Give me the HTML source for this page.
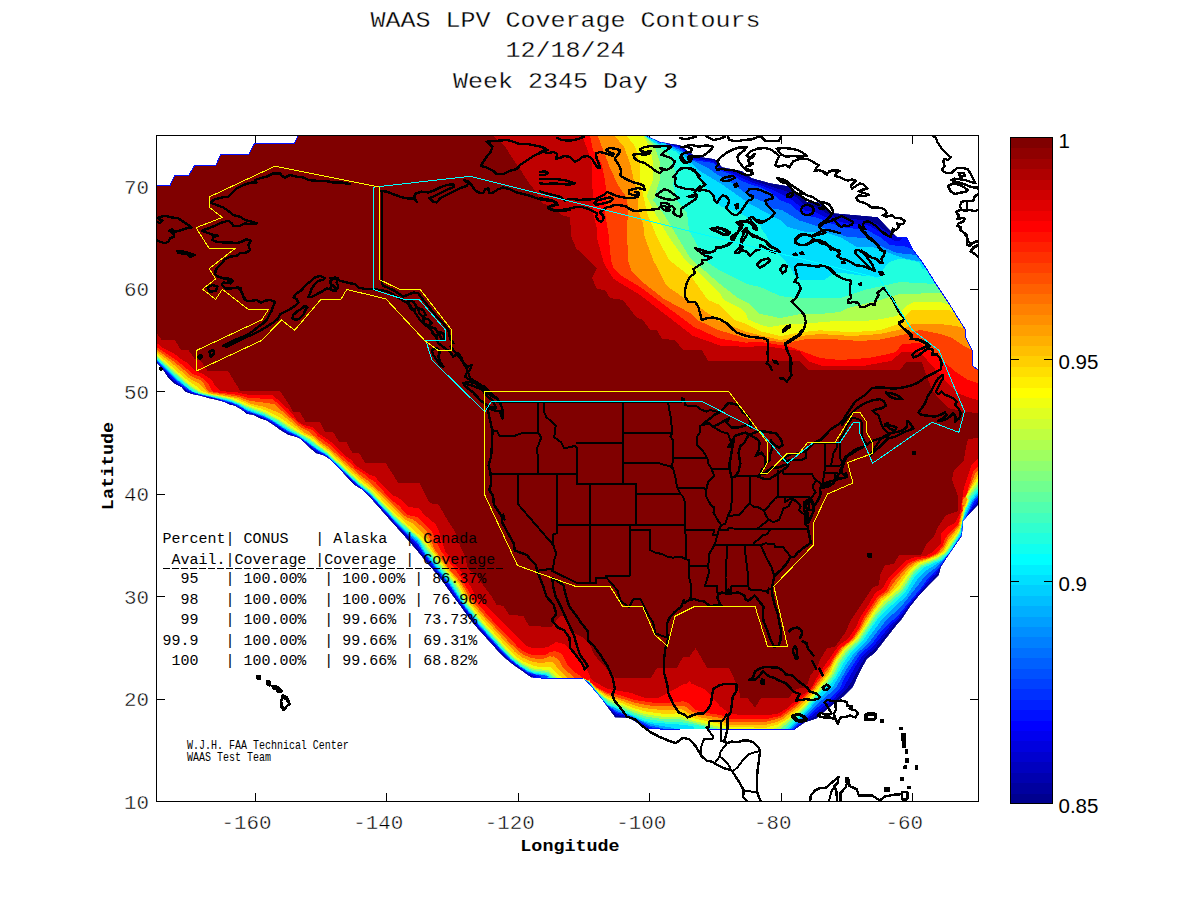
<!DOCTYPE html>
<html><head><meta charset="utf-8"><title>WAAS LPV Coverage Contours</title>
<style>
html,body{margin:0;padding:0;background:#fff;}
body{width:1200px;height:900px;position:relative;overflow:hidden;font-family:"Liberation Mono",monospace;color:#000;}
.t{position:absolute;white-space:pre;line-height:1;margin:0;padding:0;}
</style></head><body>
<svg width="1200" height="900" viewBox="0 0 1200 900" style="position:absolute;left:0;top:0" shape-rendering="crispEdges">
<defs><clipPath id="cov"><path d="M156.0,186.0 L170.0,186.0 L175.0,175.5 L189.0,175.5 L195.0,165.5 L216.0,165.5 L221.0,154.5 L249.0,154.5 L254.5,144.0 L294.0,144.0 L299.0,135.0 L645.0,135.0 L660.0,142.0 L680.0,145.0 L695.0,156.0 L715.0,159.0 L722.0,167.0 L742.0,171.0 L752.0,178.0 L770.0,183.0 L788.0,186.0 L800.0,194.0 L807.0,202.0 L818.0,202.0 L833.0,213.0 L878.0,217.0 L887.0,227.0 L897.0,237.0 L907.0,238.0 L913.0,250.0 L917.0,255.0 L922.0,262.0 L926.0,268.0 L936.0,284.0 L942.0,293.0 L950.0,305.0 L958.0,318.0 L965.0,329.0 L966.0,338.0 L972.0,350.0 L973.0,366.0 L978.0,370.0 L978.0,505.0 L963.0,521.0 L962.0,536.0 L950.0,553.0 L941.0,567.0 L939.0,575.0 L929.0,585.0 L918.0,597.0 L910.0,607.0 L902.0,619.0 L896.0,626.0 L885.0,640.0 L875.0,653.0 L867.0,659.0 L860.0,672.0 L853.0,687.0 L843.0,697.0 L829.0,708.0 L816.0,719.0 L805.0,722.5 L795.0,729.4 L793.0,729.4 L787.5,729.4 L780.0,729.4 L767.0,729.4 L730.0,729.2 L720.0,729.2 L708.0,729.0 L680.0,729.0 L660.0,729.0 L650.0,728.8 L645.0,728.5 L637.0,723.0 L629.0,718.0 L615.0,717.5 L608.0,708.0 L600.0,697.0 L590.0,685.5 L586.0,681.0 L583.0,678.0 L575.0,678.0 L568.0,678.0 L563.0,678.0 L559.0,678.0 L550.0,678.0 L541.0,678.0 L533.0,677.5 L531.0,677.5 L527.5,675.0 L521.7,670.8 L513.3,665.0 L505.0,658.3 L498.3,651.7 L491.7,644.2 L483.3,635.0 L475.0,625.8 L466.7,615.0 L460.0,605.8 L453.3,596.7 L446.7,587.5 L440.0,578.3 L433.0,570.0 L424.5,560.0 L416.3,550.0 L408.3,540.8 L401.7,533.3 L395.0,525.8 L388.3,518.3 L381.7,510.8 L375.0,503.3 L370.0,497.5 L362.5,490.0 L354.2,485.0 L350.0,480.8 L343.3,473.3 L336.7,466.7 L331.7,460.8 L324.2,455.8 L315.8,453.3 L310.0,448.3 L305.0,443.3 L299.2,438.3 L295.0,436.7 L288.3,435.0 L280.0,430.0 L273.3,425.0 L266.7,420.8 L259.2,418.3 L253.3,415.0 L246.7,414.2 L240.8,409.2 L234.2,405.8 L230.0,405.0 L225.0,402.5 L216.7,400.0 L208.3,398.3 L200.0,395.8 L191.7,394.2 L185.0,391.7 L181.7,387.5 L175.0,384.2 L168.3,378.3 L162.5,369.2 L157.0,363.3 L156.0,362.5Z"/></clipPath><clipPath id="frame"><rect x="157" y="136" width="821" height="665"/></clipPath></defs>
<path d="M255.5,801 v-8 M255.5,136 v8 M386.5,801 v-8 M386.5,136 v8 M518.5,801 v-8 M518.5,136 v8 M649.5,801 v-8 M649.5,136 v8 M781.5,801 v-8 M781.5,136 v8 M912.5,801 v-8 M912.5,136 v8 M157,699.5 h8 M978,699.5 h-8 M157,596.5 h8 M978,596.5 h-8 M157,494.5 h8 M978,494.5 h-8 M157,391.5 h8 M978,391.5 h-8 M157,289.5 h8 M978,289.5 h-8 M157,186.5 h8 M978,186.5 h-8" stroke="#000" stroke-width="1" fill="none"/>
<g clip-path="url(#frame)"><g clip-path="url(#cov)">
<path d="M156.0,186.0 L170.0,186.0 L175.0,175.5 L189.0,175.5 L195.0,165.5 L216.0,165.5 L221.0,154.5 L249.0,154.5 L254.5,144.0 L294.0,144.0 L299.0,135.0 L645.0,135.0 L660.0,142.0 L680.0,145.0 L695.0,156.0 L715.0,159.0 L722.0,167.0 L742.0,171.0 L752.0,178.0 L770.0,183.0 L788.0,186.0 L800.0,194.0 L807.0,202.0 L818.0,202.0 L833.0,213.0 L878.0,217.0 L887.0,227.0 L897.0,237.0 L907.0,238.0 L913.0,250.0 L917.0,255.0 L922.0,262.0 L926.0,268.0 L936.0,284.0 L942.0,293.0 L950.0,305.0 L958.0,318.0 L965.0,329.0 L966.0,338.0 L972.0,350.0 L973.0,366.0 L978.0,370.0 L978.0,505.0 L963.0,521.0 L962.0,536.0 L950.0,553.0 L941.0,567.0 L939.0,575.0 L929.0,585.0 L918.0,597.0 L910.0,607.0 L902.0,619.0 L896.0,626.0 L885.0,640.0 L875.0,653.0 L867.0,659.0 L860.0,672.0 L853.0,687.0 L843.0,697.0 L829.0,708.0 L816.0,719.0 L805.0,722.5 L795.0,729.4 L793.0,729.4 L787.5,729.4 L780.0,729.4 L767.0,729.4 L730.0,729.2 L720.0,729.2 L708.0,729.0 L680.0,729.0 L660.0,729.0 L650.0,728.8 L645.0,728.5 L637.0,723.0 L629.0,718.0 L615.0,717.5 L608.0,708.0 L600.0,697.0 L590.0,685.5 L586.0,681.0 L583.0,678.0 L575.0,678.0 L568.0,678.0 L563.0,678.0 L559.0,678.0 L550.0,678.0 L541.0,678.0 L533.0,677.5 L531.0,677.5 L527.5,675.0 L521.7,670.8 L513.3,665.0 L505.0,658.3 L498.3,651.7 L491.7,644.2 L483.3,635.0 L475.0,625.8 L466.7,615.0 L460.0,605.8 L453.3,596.7 L446.7,587.5 L440.0,578.3 L433.0,570.0 L424.5,560.0 L416.3,550.0 L408.3,540.8 L401.7,533.3 L395.0,525.8 L388.3,518.3 L381.7,510.8 L375.0,503.3 L370.0,497.5 L362.5,490.0 L354.2,485.0 L350.0,480.8 L343.3,473.3 L336.7,466.7 L331.7,460.8 L324.2,455.8 L315.8,453.3 L310.0,448.3 L305.0,443.3 L299.2,438.3 L295.0,436.7 L288.3,435.0 L280.0,430.0 L273.3,425.0 L266.7,420.8 L259.2,418.3 L253.3,415.0 L246.7,414.2 L240.8,409.2 L234.2,405.8 L230.0,405.0 L225.0,402.5 L216.7,400.0 L208.3,398.3 L200.0,395.8 L191.7,394.2 L185.0,391.7 L181.7,387.5 L175.0,384.2 L168.3,378.3 L162.5,369.2 L157.0,363.3 L156.0,362.5Z" fill="#00008F"/>
<path d="M492.0,134.1 L644.0,134.4 L651.0,137.4 L666.0,141.9 L666.0,143.1 L680.0,146.2 L695.0,157.4 L714.0,160.3 L721.5,168.0 L739.0,173.1 L751.0,179.9 L787.0,191.6 L796.0,196.9 L805.4,206.0 L817.0,207.6 L832.0,216.3 L872.0,221.4 L877.4,224.0 L884.1,230.0 L896.0,236.5 L896.6,236.0 L895.0,232.0 L891.8,228.0 L893.0,227.9 L896.0,230.8 L907.4,238.0 L908.5,241.0 L914.6,249.0 L915.6,252.0 L923.7,263.0 L924.7,266.0 L932.8,277.0 L933.7,280.0 L941.8,291.0 L942.8,294.0 L950.8,305.0 L956.8,316.0 L960.8,321.0 L961.8,324.0 L965.8,329.0 L971.8,349.0 L972.8,350.0 L972.8,353.0 L975.9,360.0 L975.9,363.0 L978.9,370.0 L978.8,482.0 L978.0,502.7 L967.0,516.3 L965.3,525.0 L962.7,529.0 L963.5,530.0 L962.3,532.0 L962.5,535.0 L952.3,550.0 L952.6,551.0 L951.0,553.5 L950.0,552.7 L950.5,554.0 L949.0,556.9 L947.8,556.0 L948.4,558.0 L948.0,558.5 L947.0,557.5 L940.4,567.0 L937.6,574.0 L916.4,597.0 L900.5,618.0 L893.8,625.0 L874.7,649.0 L865.0,657.0 L850.2,684.0 L845.0,691.0 L835.0,700.4 L815.0,716.3 L805.0,721.3 L794.7,729.0 L780.0,729.8 L669.0,729.6 L646.5,728.0 L629.0,717.3 L618.0,716.2 L615.0,714.9 L589.0,684.1 L588.7,685.0 L597.2,697.0 L597.9,700.0 L597.0,703.7 L596.0,703.1 L595.0,704.1 L589.0,701.9 L589.4,703.0 L588.0,703.1 L530.0,675.6 L511.0,662.2 L498.9,651.0 L475.6,625.0 L441.0,578.0 L416.0,547.2 L369.3,496.0 L362.9,490.0 L354.3,484.0 L332.0,460.9 L325.0,455.8 L316.0,452.1 L299.0,437.8 L288.0,433.8 L267.0,420.2 L254.0,414.6 L247.0,413.3 L241.0,408.7 L234.0,405.2 L217.0,399.6 L194.0,394.2 L186.0,390.9 L182.3,387.0 L175.4,383.0 L169.9,378.0 L163.0,369.0 L156.0,361.7 L155.3,358.0 L155.1,333.0 L157.0,331.1 L167.0,326.1 L169.0,324.1 L184.0,316.1 L196.0,308.1 L201.0,306.1 L213.0,298.1 L218.0,296.1 L225.0,291.1 L230.0,289.1 L242.0,281.1 L247.0,279.1 L259.0,271.1 L264.0,269.1 L266.0,267.1 L281.0,259.1 L293.0,251.1 L298.0,249.1 L310.0,241.1 L315.0,239.1 L327.0,231.1 L332.0,229.1 L344.0,221.1 L361.0,212.1 L373.0,204.1 L378.0,202.1 L390.0,194.1 L395.0,192.1 L407.0,184.1 L412.0,182.1 L414.0,180.1 L429.0,172.1 L441.0,164.1 L446.0,162.1 L458.0,154.1 L463.0,152.1 L475.0,144.1 L480.0,142.1Z" fill="#0000CF" fill-rule="evenodd"/>
<path d="M492.0,134.2 L644.0,134.5 L653.0,139.0 L655.0,138.8 L665.0,142.3 L666.0,143.4 L679.0,146.8 L683.0,149.0 L694.0,158.7 L713.9,162.0 L721.0,169.1 L731.0,172.5 L750.0,181.7 L772.0,189.5 L792.0,199.8 L805.0,210.6 L815.0,212.2 L832.0,220.0 L848.0,223.5 L869.0,225.6 L895.0,241.2 L899.0,240.9 L902.9,238.0 L902.6,236.0 L904.0,235.9 L907.2,238.0 L908.2,241.0 L923.6,263.0 L924.6,266.0 L932.6,277.0 L933.6,280.0 L941.7,291.0 L942.7,294.0 L950.7,305.0 L956.7,316.0 L960.7,321.0 L961.7,324.0 L965.8,329.0 L971.8,349.0 L972.8,350.0 L972.8,353.0 L975.8,360.0 L975.8,363.0 L978.8,370.0 L978.0,500.3 L971.3,509.0 L965.0,519.9 L964.0,519.9 L964.7,521.0 L964.3,525.0 L962.3,529.0 L963.0,530.0 L961.9,532.0 L962.2,535.0 L953.0,548.0 L953.3,549.0 L951.8,550.0 L952.2,551.0 L951.0,551.0 L949.8,554.0 L947.4,556.0 L936.1,573.0 L930.0,578.8 L896.5,620.0 L892.0,623.4 L872.8,647.0 L863.0,655.0 L855.1,667.0 L842.8,689.0 L833.1,699.0 L794.0,729.0 L779.0,729.7 L680.0,729.5 L660.0,729.3 L659.0,728.4 L648.9,728.0 L629.0,716.7 L616.0,713.8 L607.0,705.7 L586.0,680.7 L585.3,681.0 L585.8,682.0 L592.5,694.0 L591.0,697.3 L585.0,697.6 L579.0,695.8 L563.7,690.0 L537.2,677.0 L528.0,673.4 L514.4,664.0 L506.0,656.9 L477.7,626.0 L462.0,605.5 L449.0,586.7 L422.5,554.0 L417.2,546.0 L402.0,531.0 L370.0,495.9 L355.5,484.0 L327.0,456.4 L317.0,451.5 L299.0,437.4 L288.0,432.8 L267.0,419.5 L254.0,413.8 L247.0,412.3 L234.0,404.6 L217.0,399.1 L193.0,393.3 L188.0,391.0 L174.0,380.3 L156.0,360.8 L155.2,333.0 L157.0,331.2 L167.0,326.2 L169.0,324.2 L184.0,316.2 L196.0,308.2 L201.0,306.2 L213.0,298.2 L218.0,296.2 L225.0,291.2 L230.0,289.2 L242.0,281.2 L247.0,279.2 L259.0,271.2 L264.0,269.2 L266.0,267.2 L281.0,259.2 L293.0,251.2 L298.0,249.2 L310.0,241.2 L315.0,239.2 L327.0,231.2 L332.0,229.2 L344.0,221.2 L361.0,212.2 L373.0,204.2 L378.0,202.2 L390.0,194.2 L395.0,192.2 L407.0,184.2 L412.0,182.2 L414.0,180.2 L429.0,172.2 L441.0,164.2 L446.0,162.2 L458.0,154.2 L463.0,152.2 L475.0,144.2 L480.0,142.2Z" fill="#0010FF" fill-rule="evenodd"/>
<path d="M492.0,134.2 L643.0,134.4 L653.0,139.3 L654.0,138.8 L656.9,140.0 L658.0,142.6 L659.0,141.2 L660.0,143.5 L661.0,141.7 L662.0,141.9 L674.0,146.7 L679.0,147.8 L682.0,149.3 L691.0,158.0 L693.0,158.8 L693.0,160.0 L713.0,163.0 L721.0,170.8 L730.0,174.0 L741.0,180.6 L751.0,184.7 L760.0,187.0 L770.0,192.0 L780.0,200.0 L790.0,204.0 L803.0,215.0 L818.0,218.0 L831.0,223.4 L846.0,227.8 L867.0,230.0 L880.0,237.0 L890.0,245.0 L905.0,246.5 L912.0,249.2 L912.1,248.0 L913.0,247.9 L932.5,277.0 L933.5,280.0 L941.6,291.0 L942.6,294.0 L950.6,305.0 L956.6,316.0 L960.6,321.0 L961.7,324.0 L965.7,329.0 L971.7,349.0 L972.7,350.0 L972.7,353.0 L975.7,360.0 L975.7,363.0 L978.7,370.0 L978.0,498.0 L975.0,500.0 L965.0,519.0 L962.6,521.0 L963.7,522.0 L961.3,534.0 L962.0,535.0 L953.0,547.6 L953.0,549.0 L952.0,549.1 L938.0,569.0 L929.0,577.0 L921.0,588.0 L895.0,619.0 L891.0,621.0 L880.0,633.0 L871.0,645.0 L861.0,653.0 L845.0,677.0 L840.0,688.0 L832.0,697.0 L815.0,709.0 L805.0,719.0 L793.0,729.0 L680.0,729.4 L660.0,729.1 L659.0,728.2 L653.4,728.0 L650.0,727.1 L629.0,716.0 L616.0,712.1 L607.0,705.2 L586.0,680.5 L584.9,681.0 L584.9,682.0 L588.3,692.0 L587.0,693.3 L581.0,693.4 L564.0,688.0 L551.0,682.4 L541.0,678.0 L541.0,676.0 L528.0,672.6 L519.0,666.7 L508.0,657.7 L480.5,628.0 L462.6,605.0 L450.0,586.0 L423.2,553.0 L418.5,545.0 L402.0,529.7 L370.0,495.0 L356.0,483.6 L327.0,455.8 L319.0,451.6 L299.0,436.9 L288.0,431.9 L273.0,422.0 L263.4,417.0 L247.0,411.4 L238.7,406.0 L231.0,402.9 L218.0,398.9 L199.0,394.7 L189.0,390.6 L175.0,379.8 L156.0,360.0 L155.3,333.0 L157.0,331.2 L167.0,326.2 L169.0,324.2 L184.0,316.2 L196.0,308.2 L201.0,306.2 L213.0,298.2 L218.0,296.2 L225.0,291.2 L230.0,289.2 L242.0,281.2 L247.0,279.2 L259.0,271.2 L264.0,269.2 L266.0,267.2 L281.0,259.2 L293.0,251.2 L298.0,249.2 L310.0,241.2 L315.0,239.2 L327.0,231.2 L332.0,229.2 L344.0,221.2 L361.0,212.2 L373.0,204.2 L378.0,202.2 L390.0,194.2 L395.0,192.2 L407.0,184.2 L412.0,182.2 L414.0,180.2 L429.0,172.2 L441.0,164.2 L446.0,162.2 L458.0,154.2 L463.0,152.2 L475.0,144.2 L480.0,142.2Z" fill="#0050FF" fill-rule="evenodd"/>
<path d="M492.0,134.3 L643.0,134.5 L653.0,139.6 L654.0,139.2 L656.0,141.5 L657.0,141.2 L658.0,143.1 L659.0,141.9 L660.0,143.9 L661.0,142.3 L665.0,143.0 L667.0,144.6 L675.0,147.4 L677.0,149.2 L678.0,148.6 L682.0,151.7 L684.0,152.0 L691.2,159.0 L691.0,160.1 L692.0,159.9 L693.0,161.3 L694.0,161.0 L708.0,168.0 L718.0,175.0 L728.0,180.0 L744.0,192.0 L754.0,198.0 L764.0,202.0 L770.0,208.0 L782.0,210.0 L799.0,220.4 L831.0,230.3 L847.0,237.0 L867.0,238.0 L883.0,247.0 L897.0,253.0 L916.0,254.9 L917.0,253.9 L917.0,255.0 L923.3,263.0 L924.3,266.0 L932.4,277.0 L933.4,280.0 L941.4,291.0 L942.4,294.0 L950.5,305.0 L956.5,316.0 L960.6,321.0 L961.6,324.0 L965.6,329.0 L971.6,349.0 L972.6,350.0 L972.6,353.0 L975.6,360.0 L975.6,363.0 L978.6,370.0 L978.4,486.0 L978.0,495.7 L973.1,501.0 L965.0,518.0 L962.5,521.0 L963.1,522.0 L961.3,535.0 L948.0,554.8 L937.0,566.6 L926.0,575.0 L903.0,604.3 L885.0,621.8 L868.6,643.0 L857.7,653.0 L848.0,666.7 L835.8,688.0 L817.5,704.0 L791.4,729.0 L665.0,729.0 L650.0,725.4 L629.0,715.3 L617.0,711.2 L607.0,704.8 L589.0,682.9 L586.0,680.3 L583.9,681.0 L584.7,684.0 L583.0,688.0 L584.1,690.0 L579.0,690.5 L565.0,686.4 L544.0,678.0 L549.0,677.0 L547.0,675.7 L535.0,674.4 L528.0,671.9 L511.0,659.7 L503.0,652.0 L478.8,625.0 L463.0,604.4 L449.0,583.4 L424.2,553.0 L417.0,541.8 L402.0,528.8 L370.0,494.4 L358.0,484.8 L327.0,455.4 L318.0,450.3 L298.2,436.0 L288.0,431.1 L272.0,420.7 L264.0,416.6 L247.0,410.6 L238.0,405.1 L230.0,401.9 L193.0,392.3 L175.4,379.0 L156.0,359.4 L155.3,333.0 L157.0,331.3 L167.0,326.3 L169.0,324.3 L184.0,316.3 L196.0,308.3 L201.0,306.3 L213.0,298.3 L218.0,296.3 L225.0,291.3 L230.0,289.3 L242.0,281.3 L247.0,279.3 L259.0,271.3 L264.0,269.3 L266.0,267.3 L281.0,259.3 L293.0,251.3 L298.0,249.3 L310.0,241.3 L315.0,239.3 L327.0,231.3 L332.0,229.3 L344.0,221.3 L361.0,212.3 L373.0,204.3 L378.0,202.3 L390.0,194.3 L395.0,192.3 L407.0,184.3 L412.0,182.3 L414.0,180.3 L429.0,172.3 L441.0,164.3 L446.0,162.3 L458.0,154.3 L463.0,152.3 L475.0,144.3 L480.0,142.3Z" fill="#009FFF" fill-rule="evenodd"/>
<path d="M492.0,134.4 L643.0,134.6 L654.0,139.9 L657.0,141.8 L658.0,143.6 L660.0,144.5 L661.0,142.9 L663.0,143.0 L680.0,152.0 L700.0,171.0 L720.0,183.0 L749.0,203.4 L780.0,220.0 L788.0,227.0 L805.0,231.8 L827.0,233.0 L840.0,237.0 L857.0,247.0 L873.0,247.0 L903.0,258.0 L917.7,261.0 L920.7,261.0 L920.3,260.0 L921.0,259.9 L924.1,266.0 L932.2,277.0 L933.2,280.0 L941.3,291.0 L942.3,294.0 L950.4,305.0 L956.5,316.0 L960.5,321.0 L961.5,324.0 L965.5,329.0 L971.5,349.0 L972.5,350.0 L972.5,353.0 L975.6,360.0 L975.6,363.0 L978.6,370.0 L978.3,485.0 L978.0,493.3 L971.8,501.0 L962.4,521.0 L960.5,535.0 L949.0,553.3 L941.0,561.1 L924.0,572.0 L918.0,578.7 L907.0,595.2 L882.0,619.4 L866.0,641.3 L854.0,653.1 L845.7,665.0 L833.4,686.0 L819.8,698.0 L789.6,729.0 L675.0,729.0 L670.0,727.3 L655.0,724.8 L644.0,721.7 L607.0,704.4 L589.0,682.4 L586.0,680.2 L583.6,680.0 L582.6,682.0 L583.0,683.4 L580.8,685.0 L579.5,688.0 L575.0,687.7 L547.0,678.0 L549.4,677.0 L547.0,675.3 L535.0,673.8 L528.0,671.2 L520.0,666.3 L510.9,659.0 L479.6,625.0 L463.0,603.3 L449.7,583.0 L425.0,552.9 L418.0,540.9 L403.0,528.9 L370.0,493.8 L358.0,484.3 L327.0,454.9 L318.0,449.6 L297.0,434.7 L288.0,430.5 L272.0,420.0 L264.0,416.0 L247.0,410.0 L238.0,404.6 L230.0,401.4 L193.2,392.0 L188.0,388.6 L174.3,377.0 L156.0,358.8 L155.4,333.0 L157.0,331.4 L167.0,326.4 L169.0,324.4 L184.0,316.4 L196.0,308.4 L201.0,306.4 L213.0,298.4 L218.0,296.4 L225.0,291.4 L230.0,289.4 L242.0,281.4 L247.0,279.4 L259.0,271.4 L264.0,269.4 L266.0,267.4 L281.0,259.4 L293.0,251.4 L298.0,249.4 L310.0,241.4 L315.0,239.4 L327.0,231.4 L332.0,229.4 L344.0,221.4 L361.0,212.4 L373.0,204.4 L378.0,202.4 L390.0,194.4 L395.0,192.4 L407.0,184.4 L412.0,182.4 L414.0,180.4 L429.0,172.4 L441.0,164.4 L446.0,162.4 L458.0,154.4 L463.0,152.4 L475.0,144.4 L480.0,142.4Z" fill="#00DFFF" fill-rule="evenodd"/>
<path d="M492.0,134.4 L643.0,134.7 L652.0,140.9 L653.0,140.7 L653.0,142.0 L677.0,152.0 L686.0,163.0 L694.0,170.0 L700.5,181.0 L708.0,190.0 L713.8,199.0 L720.0,205.0 L720.0,206.0 L740.0,213.0 L749.0,218.7 L760.0,224.0 L761.0,228.0 L766.0,235.0 L775.0,252.0 L776.0,252.0 L786.0,262.0 L793.0,272.0 L794.0,275.0 L798.0,277.0 L800.0,280.0 L824.0,280.0 L833.0,274.0 L842.0,272.8 L864.0,276.0 L871.0,276.0 L872.0,277.0 L879.0,277.0 L880.0,278.0 L880.0,276.0 L883.0,270.0 L887.0,264.0 L890.0,262.0 L898.0,259.0 L904.0,259.0 L918.0,262.0 L919.6,263.0 L923.0,269.6 L926.0,268.0 L932.1,277.0 L933.1,280.0 L941.2,291.0 L942.2,294.0 L950.3,305.0 L956.4,316.0 L960.4,321.0 L961.4,324.0 L965.4,329.0 L971.5,349.0 L972.5,350.0 L972.5,353.0 L975.5,360.0 L975.5,363.0 L978.5,370.0 L978.3,481.0 L978.0,491.0 L971.0,500.0 L966.0,511.0 L962.3,521.0 L961.0,533.0 L949.0,553.0 L941.0,560.0 L923.0,568.0 L915.0,576.0 L905.0,593.0 L879.0,617.0 L861.8,642.0 L852.0,651.0 L843.0,664.0 L836.6,676.0 L831.0,684.0 L825.0,688.0 L811.0,705.0 L787.4,729.0 L694.0,729.0 L694.0,727.0 L692.0,726.0 L675.0,724.0 L655.0,723.0 L645.0,721.0 L607.0,704.0 L589.0,682.0 L586.0,680.0 L583.0,680.0 L581.5,681.0 L581.0,682.8 L577.0,684.0 L575.0,685.8 L573.0,685.6 L551.0,678.4 L546.0,674.4 L534.4,673.0 L527.0,670.0 L519.0,665.0 L511.7,659.0 L498.0,645.0 L478.0,622.1 L463.0,602.2 L450.8,583.0 L424.0,550.2 L419.0,540.0 L403.0,528.0 L387.0,512.0 L370.0,493.2 L358.2,484.0 L327.0,454.3 L318.1,449.0 L304.0,438.4 L264.0,415.2 L247.0,409.2 L239.0,404.4 L230.0,400.7 L200.0,394.1 L194.0,391.9 L188.0,388.0 L175.5,377.0 L156.0,358.2 L155.4,333.0 L157.0,331.4 L167.0,326.4 L169.0,324.4 L184.0,316.4 L196.0,308.4 L201.0,306.4 L213.0,298.4 L218.0,296.4 L225.0,291.4 L230.0,289.4 L242.0,281.4 L247.0,279.4 L259.0,271.4 L264.0,269.4 L266.0,267.4 L281.0,259.4 L293.0,251.4 L298.0,249.4 L310.0,241.4 L315.0,239.4 L327.0,231.4 L332.0,229.4 L344.0,221.4 L361.0,212.4 L373.0,204.4 L378.0,202.4 L390.0,194.4 L395.0,192.4 L407.0,184.4 L412.0,182.4 L414.0,180.4 L429.0,172.4 L441.0,164.4 L446.0,162.4 L458.0,154.4 L463.0,152.4 L475.0,144.4 L480.0,142.4Z" fill="#20FFDF" fill-rule="evenodd"/>
<path d="M492.0,134.5 L643.0,134.8 L670.0,155.0 L675.0,172.0 L673.0,185.0 L677.0,200.0 L687.0,213.0 L689.0,230.0 L703.0,256.0 L704.0,260.0 L707.0,261.0 L707.0,262.0 L719.0,270.0 L747.0,284.0 L761.0,287.3 L780.0,296.0 L796.0,298.0 L840.0,298.0 L864.0,290.0 L900.0,282.0 L936.0,284.0 L950.2,305.0 L956.3,316.0 L960.3,321.0 L961.3,324.0 L965.3,329.0 L971.4,349.0 L972.4,350.0 L972.4,353.0 L975.4,360.0 L975.4,363.0 L978.4,370.0 L978.2,482.0 L978.0,487.9 L970.0,498.4 L970.1,500.0 L966.0,508.4 L962.2,521.0 L960.1,533.0 L946.4,554.0 L940.0,559.0 L922.0,566.8 L914.0,574.4 L903.0,591.8 L887.0,605.8 L879.1,614.0 L860.0,641.5 L848.9,652.0 L841.1,663.0 L835.0,675.1 L829.9,682.0 L824.0,687.0 L804.5,710.0 L784.3,729.0 L711.8,729.0 L706.0,726.9 L680.0,721.9 L665.0,721.7 L646.0,718.9 L635.0,714.9 L608.0,702.6 L599.0,694.2 L589.0,681.7 L586.0,679.9 L582.0,679.7 L579.0,682.0 L569.0,683.4 L552.6,678.0 L547.0,673.2 L535.0,671.8 L529.0,669.7 L522.0,665.7 L513.0,659.0 L504.9,651.0 L479.3,622.0 L464.0,602.0 L451.6,582.0 L425.0,549.1 L419.8,540.0 L404.0,527.2 L387.0,510.6 L370.9,493.0 L359.0,483.6 L327.0,453.6 L308.0,439.8 L289.0,429.1 L278.0,421.6 L264.0,414.2 L247.0,408.1 L238.0,403.1 L230.0,400.0 L201.0,393.8 L194.0,390.6 L176.1,376.0 L156.0,357.1 L155.5,333.0 L157.0,331.5 L167.0,326.5 L169.0,324.5 L184.0,316.5 L196.0,308.5 L201.0,306.5 L213.0,298.5 L218.0,296.5 L225.0,291.5 L230.0,289.5 L242.0,281.5 L247.0,279.5 L259.0,271.5 L264.0,269.5 L266.0,267.5 L281.0,259.5 L293.0,251.5 L298.0,249.5 L310.0,241.5 L315.0,239.5 L327.0,231.5 L332.0,229.5 L344.0,221.5 L361.0,212.5 L373.0,204.5 L378.0,202.5 L390.0,194.5 L395.0,192.5 L407.0,184.5 L412.0,182.5 L414.0,180.5 L429.0,172.5 L441.0,164.5 L446.0,162.5 L458.0,154.5 L463.0,152.5 L475.0,144.5 L480.0,142.5Z" fill="#60FF9F" fill-rule="evenodd"/>
<path d="M492.0,134.6 L643.2,135.0 L655.0,147.0 L660.0,163.0 L660.0,180.0 L655.2,194.0 L655.0,197.0 L653.0,200.0 L663.8,214.0 L690.0,258.0 L720.0,284.0 L738.0,298.0 L748.0,303.0 L760.0,314.0 L780.0,318.0 L800.0,314.0 L820.0,314.0 L840.0,312.0 L848.0,308.0 L879.0,300.3 L900.0,294.0 L942.0,293.0 L950.1,305.0 L951.1,308.0 L955.2,313.0 L956.2,316.0 L960.2,321.0 L961.2,324.0 L965.2,329.0 L971.3,349.0 L972.3,350.0 L972.3,353.0 L975.3,360.0 L975.3,363.0 L978.3,370.0 L978.1,482.0 L978.0,484.7 L968.2,498.0 L969.3,500.0 L966.6,507.0 L965.0,508.0 L965.4,509.0 L959.2,533.0 L946.0,553.1 L938.0,558.5 L920.0,566.1 L912.9,573.0 L901.6,590.0 L884.0,605.3 L876.0,614.7 L858.2,641.0 L847.2,651.0 L839.2,662.0 L833.5,674.0 L828.1,681.0 L803.7,709.0 L780.4,729.0 L719.3,729.0 L681.0,719.5 L665.0,719.4 L646.0,716.6 L634.0,712.5 L609.0,701.2 L599.0,693.3 L589.0,681.4 L586.0,679.7 L582.0,679.2 L577.0,681.1 L565.0,681.2 L555.1,678.0 L548.0,671.8 L535.0,670.4 L530.0,668.8 L522.0,664.4 L513.4,658.0 L505.4,650.0 L480.6,622.0 L464.6,601.0 L457.5,588.0 L452.5,581.0 L433.7,558.0 L420.0,539.3 L394.0,516.1 L371.0,492.0 L359.0,482.5 L326.0,451.9 L309.0,439.0 L290.0,428.3 L279.0,420.7 L264.0,412.9 L247.0,406.9 L230.0,399.1 L200.7,393.0 L189.0,385.7 L156.0,356.0 L155.6,333.0 L157.0,331.6 L167.0,326.6 L169.0,324.6 L184.0,316.6 L196.0,308.6 L201.0,306.6 L213.0,298.6 L218.0,296.6 L225.0,291.6 L230.0,289.6 L242.0,281.6 L247.0,279.6 L259.0,271.6 L264.0,269.6 L266.0,267.6 L281.0,259.6 L293.0,251.6 L298.0,249.6 L310.0,241.6 L315.0,239.6 L327.0,231.6 L332.0,229.6 L344.0,221.6 L361.0,212.6 L373.0,204.6 L378.0,202.6 L390.0,194.6 L395.0,192.6 L407.0,184.6 L412.0,182.6 L414.0,180.6 L429.0,172.6 L441.0,164.6 L446.0,162.6 L458.0,154.6 L463.0,152.6 L475.0,144.6 L480.0,142.6Z" fill="#AFFF50" fill-rule="evenodd"/>
<path d="M492.0,134.6 L643.0,135.0 L650.0,147.0 L653.0,163.0 L653.0,180.0 L647.0,195.0 L646.9,197.0 L654.4,212.0 L668.2,236.0 L685.2,260.0 L693.4,267.0 L719.6,293.0 L724.0,300.0 L740.0,308.0 L746.0,313.0 L748.0,320.0 L750.0,320.0 L761.0,325.0 L770.0,327.1 L790.0,323.6 L806.0,323.5 L830.0,321.5 L865.0,321.0 L882.0,319.0 L896.0,316.0 L906.0,306.0 L914.0,302.0 L940.0,302.0 L950.0,305.0 L956.1,316.0 L960.1,321.0 L961.1,324.0 L965.2,329.0 L971.2,349.0 L972.2,350.0 L972.2,353.0 L975.3,360.0 L975.3,363.0 L978.3,370.0 L978.0,481.0 L967.0,496.7 L968.4,500.0 L966.0,507.0 L964.4,508.0 L965.0,509.0 L963.5,512.0 L961.1,527.0 L959.0,531.9 L945.0,552.6 L937.0,557.7 L919.0,564.6 L911.0,572.3 L900.0,588.5 L883.8,602.0 L876.3,611.0 L857.6,639.0 L845.5,650.0 L837.0,661.5 L831.3,674.0 L809.0,701.1 L795.0,715.1 L778.5,727.0 L772.5,729.0 L728.1,729.0 L690.0,720.0 L681.0,716.9 L665.0,717.1 L645.0,714.1 L630.0,708.9 L605.0,697.5 L595.0,689.1 L589.0,681.1 L586.0,679.6 L582.0,678.9 L575.0,680.2 L561.0,679.1 L557.7,678.0 L549.0,670.4 L532.0,668.2 L523.0,663.7 L514.9,658.0 L506.8,650.0 L481.0,620.8 L465.9,601.0 L458.5,587.0 L423.9,542.0 L395.0,515.7 L370.0,489.8 L359.7,482.0 L326.0,450.8 L318.0,445.3 L309.6,438.0 L305.0,436.3 L296.2,431.0 L280.0,419.9 L264.0,411.7 L247.0,405.7 L230.0,398.3 L201.0,392.4 L189.0,384.1 L156.0,354.8 L155.6,333.0 L157.0,331.6 L167.0,326.6 L169.0,324.6 L184.0,316.6 L196.0,308.6 L201.0,306.6 L213.0,298.6 L218.0,296.6 L225.0,291.6 L230.0,289.6 L242.0,281.6 L247.0,279.6 L259.0,271.6 L264.0,269.6 L266.0,267.6 L281.0,259.6 L293.0,251.6 L298.0,249.6 L310.0,241.6 L315.0,239.6 L327.0,231.6 L332.0,229.6 L344.0,221.6 L361.0,212.6 L373.0,204.6 L378.0,202.6 L390.0,194.6 L395.0,192.6 L407.0,184.6 L412.0,182.6 L414.0,180.6 L429.0,172.6 L441.0,164.6 L446.0,162.6 L458.0,154.6 L463.0,152.6 L475.0,144.6 L480.0,142.6Z" fill="#EFFF10" fill-rule="evenodd"/>
<path d="M492.0,134.7 L626.0,135.0 L634.8,146.0 L636.6,151.0 L639.6,163.0 L640.0,180.0 L647.0,213.0 L656.9,237.0 L669.0,260.0 L692.2,278.0 L708.0,300.0 L720.0,305.0 L734.0,320.0 L746.5,324.0 L760.0,331.2 L781.0,336.1 L800.0,332.3 L820.0,330.3 L852.0,332.2 L880.0,330.2 L899.0,324.0 L908.0,312.9 L912.0,310.0 L949.0,310.0 L955.0,314.0 L965.1,329.0 L971.2,349.0 L972.2,350.0 L972.2,353.0 L975.2,360.0 L975.2,363.0 L978.2,370.0 L978.0,478.0 L966.9,495.0 L966.2,497.0 L967.9,499.0 L965.3,507.0 L963.9,508.0 L960.4,527.0 L956.5,534.0 L949.7,542.0 L944.0,551.7 L937.0,556.4 L918.0,563.3 L909.4,571.0 L897.9,587.0 L890.8,594.0 L882.0,600.7 L874.0,611.0 L863.2,629.0 L855.1,640.0 L844.2,649.0 L836.0,660.1 L830.0,672.7 L812.4,695.0 L802.0,706.6 L793.6,714.0 L785.0,720.4 L777.0,724.8 L765.0,727.9 L732.0,726.7 L730.0,727.6 L718.0,723.6 L691.0,717.7 L681.0,713.2 L665.0,714.1 L645.0,711.4 L633.0,707.8 L605.0,696.2 L595.0,688.4 L589.0,680.8 L588.0,681.1 L586.0,679.4 L584.0,678.7 L575.0,679.3 L563.0,678.0 L556.0,673.0 L550.0,666.5 L540.0,667.1 L535.0,666.2 L524.0,661.9 L516.0,656.5 L508.0,648.7 L482.5,620.0 L466.9,600.0 L459.0,585.1 L432.8,552.0 L425.0,540.3 L396.0,514.3 L371.0,488.8 L357.4,478.0 L327.0,450.1 L318.4,444.0 L311.9,438.0 L304.0,434.3 L278.0,416.2 L263.0,409.3 L247.0,404.1 L238.0,399.9 L230.0,397.4 L209.0,393.9 L202.0,391.1 L197.7,387.0 L189.0,381.5 L156.0,353.2 L155.7,333.0 L157.0,331.7 L167.0,326.7 L169.0,324.7 L184.0,316.7 L196.0,308.7 L201.0,306.7 L213.0,298.7 L218.0,296.7 L225.0,291.7 L230.0,289.7 L242.0,281.7 L247.0,279.7 L259.0,271.7 L264.0,269.7 L266.0,267.7 L281.0,259.7 L293.0,251.7 L298.0,249.7 L310.0,241.7 L315.0,239.7 L327.0,231.7 L332.0,229.7 L344.0,221.7 L361.0,212.7 L373.0,204.7 L378.0,202.7 L390.0,194.7 L395.0,192.7 L407.0,184.7 L412.0,182.7 L414.0,180.7 L429.0,172.7 L441.0,164.7 L446.0,162.7 L458.0,154.7 L463.0,152.7 L475.0,144.7 L480.0,142.7Z" fill="#FFCF00" fill-rule="evenodd"/>
<path d="M492.0,134.8 L614.0,135.0 L624.0,147.0 L630.0,163.0 L633.6,179.0 L637.8,192.0 L638.0,210.0 L643.0,223.0 L644.7,237.0 L653.2,260.0 L666.0,284.5 L668.2,287.0 L687.0,300.0 L694.0,303.4 L719.0,321.0 L747.0,332.1 L780.0,340.0 L800.0,336.0 L820.0,334.0 L852.0,336.0 L880.0,334.0 L904.0,328.7 L912.0,324.0 L941.0,324.1 L956.0,326.0 L965.0,329.0 L971.1,349.0 L972.1,350.0 L972.1,353.0 L975.1,360.0 L975.1,363.0 L978.1,370.0 L978.0,474.0 L965.5,497.0 L967.0,499.0 L965.0,506.2 L962.7,507.0 L963.6,510.0 L962.1,513.0 L959.7,526.0 L948.1,541.0 L943.3,550.0 L938.9,554.0 L929.0,558.7 L917.0,562.3 L907.3,570.0 L889.2,593.0 L880.8,599.0 L867.0,618.7 L861.5,629.0 L854.4,639.0 L843.0,648.5 L834.7,660.0 L829.0,671.0 L813.0,692.1 L800.0,705.7 L782.0,719.7 L776.0,722.3 L765.0,724.9 L730.0,724.7 L719.0,720.7 L701.0,717.5 L692.0,714.8 L681.0,709.2 L665.0,710.4 L644.0,708.0 L634.0,705.3 L606.0,695.1 L596.0,688.4 L589.0,680.4 L588.0,680.8 L584.0,678.5 L568.0,678.0 L559.1,670.0 L553.0,662.0 L548.0,661.5 L543.0,663.1 L533.0,662.1 L522.0,657.4 L515.0,652.0 L508.1,645.0 L475.3,608.0 L468.3,599.0 L460.2,584.0 L433.9,551.0 L427.5,539.0 L422.0,532.0 L412.0,523.0 L406.0,520.0 L400.1,515.0 L372.0,486.9 L359.0,476.7 L328.0,449.0 L318.0,441.7 L313.0,436.7 L304.8,433.0 L280.0,413.3 L263.0,406.5 L251.4,404.0 L238.0,398.2 L210.0,393.3 L207.1,392.0 L198.1,383.0 L190.0,378.8 L173.0,364.1 L156.0,351.2 L155.8,333.0 L157.0,331.8 L167.0,326.8 L169.0,324.8 L184.0,316.8 L196.0,308.8 L201.0,306.8 L213.0,298.8 L218.0,296.8 L225.0,291.8 L230.0,289.8 L242.0,281.8 L247.0,279.8 L259.0,271.8 L264.0,269.8 L266.0,267.8 L281.0,259.8 L293.0,251.8 L298.0,249.8 L310.0,241.8 L315.0,239.8 L327.0,231.8 L332.0,229.8 L344.0,221.8 L361.0,212.8 L373.0,204.8 L378.0,202.8 L390.0,194.8 L395.0,192.8 L407.0,184.8 L412.0,182.8 L414.0,180.8 L429.0,172.8 L441.0,164.8 L446.0,162.8 L458.0,154.8 L463.0,152.8 L475.0,144.8 L480.0,142.8Z" fill="#FF8F00" fill-rule="evenodd"/>
<path d="M492.0,134.8 L596.0,135.0 L598.0,136.4 L610.0,168.0 L618.0,185.0 L627.0,198.0 L628.0,210.0 L627.0,230.0 L628.0,260.0 L632.0,272.0 L633.0,272.0 L633.0,273.0 L640.0,280.0 L664.0,299.0 L692.0,314.0 L697.0,320.0 L718.5,330.0 L747.0,338.6 L760.0,339.2 L786.0,343.0 L806.0,339.0 L830.0,339.0 L860.0,341.0 L880.0,339.6 L904.0,334.5 L920.0,330.0 L940.0,334.0 L952.0,338.0 L964.0,346.0 L972.0,350.0 L972.0,353.0 L973.0,354.0 L974.0,359.0 L975.0,360.0 L975.0,363.0 L978.1,370.0 L978.0,470.0 L975.5,473.0 L966.3,496.0 L963.1,499.0 L962.3,505.0 L963.0,505.8 L964.0,504.6 L964.5,506.0 L962.1,507.0 L963.2,508.0 L962.4,509.0 L963.3,510.0 L961.6,513.0 L958.5,526.0 L948.0,538.0 L944.1,546.0 L938.0,553.4 L929.0,557.9 L916.8,561.0 L909.0,565.4 L905.1,569.0 L893.3,583.0 L887.6,592.0 L879.1,598.0 L865.6,618.0 L860.6,628.0 L853.0,639.0 L841.8,648.0 L833.3,660.0 L830.9,665.0 L812.0,691.0 L797.0,705.7 L781.0,717.8 L765.0,722.0 L730.0,721.9 L720.0,717.9 L700.0,714.4 L692.0,711.5 L686.4,707.0 L683.0,705.6 L655.0,706.4 L636.0,703.0 L606.9,694.0 L596.8,688.0 L590.0,682.2 L589.6,680.0 L587.0,680.1 L584.0,678.2 L575.0,678.0 L563.0,668.0 L559.0,660.0 L553.0,656.0 L553.0,657.0 L551.0,657.0 L551.5,656.0 L550.0,656.0 L543.0,659.2 L532.0,658.3 L523.0,654.7 L510.0,643.3 L484.0,615.0 L470.0,598.2 L461.5,583.0 L450.0,570.0 L435.0,550.0 L426.0,530.0 L413.0,519.3 L407.0,517.6 L405.0,516.1 L370.0,482.3 L360.0,475.0 L327.0,446.0 L318.5,440.0 L309.5,432.0 L300.2,427.0 L274.0,404.0 L250.0,400.8 L238.0,396.6 L209.5,392.0 L207.2,390.0 L204.0,384.0 L200.0,380.0 L192.0,376.8 L175.0,362.5 L156.0,349.2 L155.8,333.0 L157.0,331.8 L167.0,326.8 L169.0,324.8 L184.0,316.8 L196.0,308.8 L201.0,306.8 L213.0,298.8 L218.0,296.8 L225.0,291.8 L230.0,289.8 L242.0,281.8 L247.0,279.8 L259.0,271.8 L264.0,269.8 L266.0,267.8 L281.0,259.8 L293.0,251.8 L298.0,249.8 L310.0,241.8 L315.0,239.8 L327.0,231.8 L332.0,229.8 L344.0,221.8 L361.0,212.8 L373.0,204.8 L378.0,202.8 L390.0,194.8 L395.0,192.8 L407.0,184.8 L412.0,182.8 L414.0,180.8 L429.0,172.8 L441.0,164.8 L446.0,162.8 L458.0,154.8 L463.0,152.8 L475.0,144.8 L480.0,142.8Z" fill="#FF4000" fill-rule="evenodd"/>
<path d="M492.0,134.9 L590.0,135.0 L593.0,150.0 L601.8,164.0 L605.0,180.0 L606.7,197.0 L605.0,213.0 L608.4,233.0 L611.0,260.6 L613.0,267.0 L620.0,275.0 L640.0,286.8 L694.0,327.0 L720.0,338.7 L746.0,342.6 L760.0,342.0 L788.0,346.0 L820.0,358.0 L840.0,360.0 L868.0,358.0 L888.0,354.0 L896.0,352.0 L902.0,344.0 L920.0,343.0 L934.0,353.5 L956.0,372.0 L968.0,380.0 L978.0,383.0 L978.0,466.0 L973.0,472.0 L966.0,496.0 L963.0,497.6 L961.7,505.0 L962.3,506.0 L961.5,507.0 L962.6,508.0 L961.7,509.0 L963.0,510.0 L960.6,514.0 L958.0,525.0 L948.3,534.0 L944.5,540.0 L943.0,545.0 L937.0,553.0 L929.0,557.0 L918.0,559.0 L908.0,563.4 L899.0,572.0 L891.0,581.0 L886.0,591.0 L877.2,597.0 L863.5,618.0 L859.0,628.0 L851.0,640.0 L840.2,648.0 L832.5,659.0 L830.0,664.0 L824.0,671.0 L811.0,690.0 L796.0,704.0 L780.0,716.0 L767.0,719.0 L730.0,719.0 L721.0,715.0 L706.0,713.0 L699.0,711.0 L694.0,709.0 L688.0,703.0 L683.0,701.3 L665.0,703.0 L655.0,703.0 L635.0,700.0 L617.0,694.4 L608.0,693.0 L598.0,688.0 L590.0,682.0 L590.0,679.1 L587.0,680.0 L583.0,678.0 L572.0,670.0 L567.0,664.0 L562.0,654.0 L556.0,651.3 L551.0,651.6 L545.0,655.0 L534.0,655.2 L529.0,654.0 L523.0,651.0 L518.9,648.0 L493.0,621.2 L472.0,597.0 L459.2,575.0 L440.3,550.0 L431.0,530.0 L417.0,517.0 L407.0,515.0 L399.0,505.6 L391.0,500.0 L375.0,481.8 L370.0,479.1 L366.9,476.0 L355.0,468.2 L351.4,464.0 L335.0,450.0 L330.7,445.0 L318.8,437.0 L313.0,430.4 L305.0,427.5 L298.0,422.7 L273.0,399.2 L249.0,397.9 L236.0,394.6 L214.0,392.0 L211.1,390.0 L209.2,385.0 L205.0,380.0 L200.0,376.7 L193.1,374.0 L177.0,360.6 L156.0,346.6 L155.9,333.0 L157.0,331.9 L167.0,326.9 L169.0,324.9 L184.0,316.9 L196.0,308.9 L201.0,306.9 L213.0,298.9 L218.0,296.9 L225.0,291.9 L230.0,289.9 L242.0,281.9 L247.0,279.9 L259.0,271.9 L264.0,269.9 L266.0,267.9 L281.0,259.9 L293.0,251.9 L298.0,249.9 L310.0,241.9 L315.0,239.9 L327.0,231.9 L332.0,229.9 L344.0,221.9 L361.0,212.9 L373.0,204.9 L378.0,202.9 L390.0,194.9 L395.0,192.9 L407.0,184.9 L412.0,182.9 L414.0,180.9 L429.0,172.9 L441.0,164.9 L446.0,162.9 L458.0,154.9 L463.0,152.9 L475.0,144.9 L480.0,142.9Z" fill="#FF0000" fill-rule="evenodd"/>
<path d="M492.0,134.9 L582.1,135.0 L592.0,163.0 L593.0,213.0 L596.9,228.0 L597.2,239.0 L603.6,262.0 L608.3,271.0 L613.7,279.0 L640.2,295.0 L693.0,335.9 L720.0,345.5 L746.0,346.9 L764.0,346.0 L800.0,351.0 L800.1,352.0 L809.0,361.7 L824.0,366.3 L862.7,366.0 L891.0,361.0 L902.0,352.0 L920.0,352.0 L950.0,386.0 L960.0,394.0 L970.0,398.0 L978.0,400.0 L978.0,458.0 L972.0,464.0 L969.4,471.0 L963.7,489.0 L960.0,513.0 L955.0,523.0 L947.0,527.0 L941.0,533.0 L941.0,543.0 L934.0,551.0 L926.0,556.0 L915.0,557.0 L905.0,561.0 L891.3,575.0 L886.4,581.0 L883.0,588.0 L875.0,593.0 L869.0,604.0 L860.4,617.0 L856.0,627.0 L848.0,639.0 L839.0,645.0 L820.2,672.0 L810.0,690.0 L802.0,695.2 L786.0,709.0 L779.0,713.0 L777.0,714.0 L767.0,715.0 L743.0,715.0 L730.0,714.0 L720.0,706.2 L706.0,690.0 L693.0,684.0 L690.0,684.0 L691.0,683.0 L689.0,681.0 L686.0,684.0 L684.0,684.1 L658.0,698.0 L645.0,698.0 L630.0,692.6 L608.0,689.0 L593.0,681.0 L591.0,679.0 L587.6,671.0 L578.0,656.0 L570.0,650.0 L564.0,644.0 L556.0,642.0 L548.0,647.0 L544.0,647.7 L532.0,647.7 L526.0,646.0 L475.0,595.0 L471.7,588.0 L463.5,575.0 L445.1,551.0 L438.4,530.0 L435.5,524.0 L423.4,514.0 L420.0,509.4 L418.0,508.2 L409.0,507.0 L398.0,497.2 L392.0,495.0 L380.0,483.0 L375.0,476.5 L370.0,475.0 L355.0,465.0 L351.7,460.0 L345.3,456.0 L331.0,441.9 L318.1,433.0 L313.0,427.3 L303.8,425.0 L297.1,421.0 L293.4,415.0 L288.0,408.9 L273.0,395.4 L249.0,395.0 L237.0,392.4 L220.0,391.0 L214.0,385.0 L212.7,381.0 L211.0,379.5 L204.0,374.6 L196.0,371.0 L187.0,362.6 L180.8,359.0 L175.0,354.1 L162.8,348.0 L156.0,342.3 L155.9,333.0 L157.0,331.9 L167.0,326.9 L169.0,324.9 L184.0,316.9 L196.0,308.9 L201.0,306.9 L213.0,298.9 L218.0,296.9 L225.0,291.9 L230.0,289.9 L242.0,281.9 L247.0,279.9 L259.0,271.9 L264.0,269.9 L266.0,267.9 L281.0,259.9 L293.0,251.9 L298.0,249.9 L310.0,241.9 L315.0,239.9 L327.0,231.9 L332.0,229.9 L344.0,221.9 L361.0,212.9 L373.0,204.9 L378.0,202.9 L390.0,194.9 L395.0,192.9 L407.0,184.9 L412.0,182.9 L414.0,180.9 L429.0,172.9 L441.0,164.9 L446.0,162.9 L458.0,154.9 L463.0,152.9 L475.0,144.9 L480.0,142.9Z" fill="#BF0000" fill-rule="evenodd"/>
<path d="M156.0,186.0 L170.0,186.0 L175.0,175.5 L189.0,175.5 L195.0,165.5 L216.0,165.5 L221.0,154.5 L249.0,154.5 L254.5,144.0 L294.0,144.0 L299.0,135.0 L492.5,135.0 L504.7,146.0 L514.0,160.7 L520.7,170.0 L527.3,180.7 L536.7,192.7 L542.0,203.3 L551.3,206.0 L562.0,215.3 L570.0,217.3 L571.3,236.7 L576.7,249.3 L578.0,250.0 L597.0,268.0 L592.0,278.0 L597.0,289.0 L605.0,290.0 L610.0,298.0 L623.0,300.0 L637.0,318.0 L643.0,320.0 L650.0,330.0 L657.0,330.0 L662.0,339.0 L675.0,340.0 L683.0,350.0 L702.0,350.0 L708.0,361.0 L800.0,361.0 L808.0,370.0 L900.0,370.0 L906.0,362.0 L922.0,362.0 L926.0,374.0 L932.0,390.0 L940.0,400.0 L948.0,408.0 L966.0,412.0 L978.0,413.0 L978.0,438.0 L968.0,439.0 L965.0,452.0 L964.0,460.0 L954.0,470.0 L952.0,480.0 L958.0,496.0 L958.0,511.0 L946.0,515.0 L938.0,527.0 L934.0,536.0 L926.0,545.0 L921.0,555.0 L899.0,555.0 L894.0,564.0 L885.0,565.0 L880.0,575.0 L879.0,585.0 L873.0,587.0 L865.0,599.0 L857.0,611.0 L851.0,620.0 L845.0,633.0 L835.0,647.0 L827.0,648.0 L820.0,660.0 L817.5,666.0 L810.0,676.0 L808.0,683.0 L805.0,687.5 L796.0,689.0 L789.0,697.5 L761.0,698.0 L755.0,707.5 L747.5,698.0 L740.0,697.5 L739.0,689.0 L729.0,668.0 L707.0,667.5 L695.6,648.0 L689.0,657.5 L683.0,657.0 L677.0,667.5 L657.0,668.0 L651.0,677.5 L615.0,677.5 L613.0,677.0 L606.0,668.0 L600.0,662.0 L594.0,654.0 L590.0,645.0 L582.0,637.0 L574.0,633.0 L570.0,625.0 L564.0,616.0 L560.0,616.0 L551.7,626.7 L529.2,626.3 L523.3,615.8 L509.2,615.0 L503.3,605.8 L496.7,605.0 L491.7,596.7 L486.7,590.0 L481.7,583.3 L476.7,575.0 L470.0,571.0 L467.7,568.0 L465.0,556.0 L461.7,550.0 L458.3,540.0 L454.3,530.0 L448.3,521.7 L443.3,512.5 L438.3,504.2 L430.0,503.3 L423.3,490.8 L419.2,482.9 L398.3,482.9 L385.8,463.3 L365.0,462.9 L359.2,453.3 L352.5,453.3 L346.7,442.5 L339.2,442.1 L333.3,432.5 L325.0,432.1 L320.0,422.5 L305.8,422.1 L300.0,412.5 L293.3,412.1 L290.0,405.8 L280.0,391.3 L240.0,390.6 L228.3,371.3 L207.5,370.8 L200.8,360.8 L195.0,359.2 L188.3,350.0 L180.8,349.6 L175.0,340.4 L161.7,340.0 L156.0,332.5Z" fill="#800000"/>
</g>
<path d="M897.0,237.0 L907.0,238.0 L913.0,250.0 L917.0,255.0 L922.0,262.0 L926.0,268.0 L936.0,284.0 L942.0,293.0 L950.0,305.0 L958.0,318.0 L965.0,329.0 L966.0,338.0 L972.0,350.0 L973.0,366.0 L978.0,370.0" stroke="#0010FF" stroke-width="1" fill="none"/>
<path d="M795.0,729.4 L793.0,729.4 L787.5,729.4 L780.0,729.4 L767.0,729.4 L730.0,729.2 L720.0,729.2 L708.0,729.0 L680.0,729.0 L660.0,729.0 L650.0,728.8 L645.0,728.5" stroke="#0010FF" stroke-width="1" fill="none"/>
<path d="M583.0,678.0 L575.0,678.0 L568.0,678.0 L563.0,678.0 L559.0,678.0 L550.0,678.0 L541.0,678.0 L533.0,677.5" stroke="#0010FF" stroke-width="1" fill="none"/>
<path d="M156.0,185.5 L170.0,185.5 L175.0,175.0 L189.0,175.0 L195.0,165.0 L216.0,165.0 L221.0,154.0 L249.0,154.0 L254.5,143.5 L294.0,143.5 L299.0,134.5" stroke="#0010FF" stroke-width="1" fill="none"/>
<g fill="none" stroke-linejoin="round" stroke-linecap="round" shape-rendering="crispEdges">
<path d="M496.5,401.9 L681.6,401.9 L681.6,398.0 L683.9,398.8 L685.2,405.0 L690.5,406.5 L696.4,406.0 L700.3,409.1 L706.3,411.6 L710.2,410.1 L718.1,412.1 M491.9,430.1 L497.1,431.1 L499.8,436.2 L510.3,436.2 L514.9,435.7 L520.8,433.5 L524.8,432.6 L538.4,432.6 M537.6,401.9 L537.6,428.3 L538.4,432.6 L541.2,437.8 L538.9,443.9 L536.6,449.0 L537.7,455.2 L537.7,473.6 M490.6,473.6 L577.0,473.6 M518.2,473.6 L518.2,504.4 L553.5,545.3 L553.9,547.4 L556.3,553.5 L554.3,559.7 L552.9,568.7 M557.3,473.6 L557.3,533.1 L553.0,534.6 L553.5,545.3 M557.3,524.9 L636.2,524.9 M590.2,483.9 L590.2,582.9 M577.0,448.0 L577.0,483.9 L636.2,483.9 M544.2,401.9 L544.2,412.1 L546.5,417.3 L552.4,422.4 L555.7,426.0 L554.3,437.2 L561.3,442.4 L564.2,448.5 L574.7,446.0 L577.0,448.0 M577.0,442.9 L623.1,442.9 M623.1,401.9 L623.1,483.9 M623.1,433.3 L672.3,433.3 M623.1,463.4 L659.6,463.4 L664.2,464.9 L669.4,465.9 L673.0,468.5 M636.2,483.9 L636.2,524.9 M636.2,494.1 L680.6,494.1 M630.0,524.9 L630.0,530.0 L629.6,576.1 L606.3,576.1 L607.0,578.3 M630.0,530.0 L649.7,530.0 L649.7,549.9 L655.0,552.5 L662.2,554.1 L668.1,557.1 L673.4,557.6 L680.6,556.6 L686.0,559.3 M636.2,524.9 L685.1,524.9 M686.0,559.3 L688.9,560.2 L688.9,576.1 L691.1,585.3 L691.1,593.5 L690.2,599.7 M537.1,570.7 L552.9,568.7 L552.3,571.0 L576.9,582.9 L595.8,582.9 L595.8,578.3 L607.0,578.3 L617.5,590.4 L620.8,601.2 L629.0,607.1 L633.3,599.1 L640.5,598.9 L647.7,614.0 L653.0,622.2 L655.6,633.5 L668.4,638.1 M667.9,401.9 L670.7,417.3 L672.3,433.3 L670.4,436.7 L673.0,439.8 L673.0,458.3 L672.1,466.5 L673.0,468.5 L675.3,476.7 L677.0,486.9 L680.6,494.1 L683.2,496.7 L685.2,503.3 L685.1,530.0 L686.2,541.2 L686.0,559.3 M673.0,458.3 L707.4,458.3 M677.5,488.2 L704.1,487.8 L706.1,490.2 M685.1,530.0 L714.5,530.0 L713.0,535.1 L717.4,535.1 M688.9,565.8 L707.8,565.8 M700.3,425.5 L700.3,431.6 L697.0,436.7 L697.4,445.4 L703.0,451.1 L707.4,458.3 L708.2,463.4 L711.3,468.5 L714.1,475.7 L708.2,481.8 L706.1,490.2 L705.6,495.1 L710.9,505.4 L714.1,507.4 L713.5,512.6 L718.7,521.8 L721.2,524.9 L718.7,530.0 L717.4,535.1 L714.8,544.3 L709.5,553.5 L708.2,565.8 L708.9,573.0 L704.9,586.3 L717.2,586.3 L716.8,590.4 L718.1,594.5 M711.3,468.5 L729.9,468.5 M712.8,426.8 L721.4,431.6 L728.0,433.7 L729.9,439.3 L731.2,441.9 M731.7,476.1 L731.7,500.8 L730.9,509.5 L728.6,514.6 L728.0,515.6 M749.5,476.1 L749.5,503.3 M735.2,476.1 L749.5,476.1 L758.5,476.5 M777.8,470.5 L777.8,497.0 L777.3,497.2 L775.3,498.2 L770.0,504.4 L766.8,508.5 L764.1,510.5 L758.2,507.4 L752.9,506.4 L749.7,503.3 L745.7,507.4 L742.4,511.5 L738.5,515.1 L731.9,515.6 L728.0,515.6 L725.3,523.8 L721.2,524.9 M718.7,530.0 L728.3,530.0 L728.3,528.4 L757.0,529.0 L770.2,529.1 L808.2,529.5 M770.2,529.1 L767.4,534.1 L762.1,535.6 L758.2,539.5 L754.6,542.3 L752.8,545.3 M713.5,545.3 L760.8,545.3 L765.4,543.3 L774.3,544.3 L775.3,547.4 L783.2,547.4 L790.8,557.0 M727.3,545.3 L725.5,577.1 L726.0,594.0 M744.4,545.3 L747.0,567.4 L748.3,576.1 L748.3,586.3 L749.3,589.4 L766.8,590.9 L767.7,593.0 L768.7,588.4 L771.7,589.4 M731.2,593.5 L731.2,586.3 L748.3,586.3 M760.8,545.3 L766.8,558.7 L771.4,566.9 L774.0,575.1 L775.6,575.8 M757.0,529.0 L766.1,521.8 L768.3,519.3 L765.4,514.6 L764.1,510.5 M768.3,519.3 L773.3,522.3 L779.2,519.7 L783.5,508.5 L788.5,506.4 L792.1,499.8 L796.2,501.1 L791.7,498.0 L784.6,502.3 L784.6,497.0 M777.8,497.0 L808.9,497.0 L808.9,510.0 L813.8,510.0 M796.2,501.1 L799.6,504.9 L800.6,506.4 L799.0,510.5 L801.6,512.6 L805.6,515.1 M782.8,470.9 L782.8,473.6 L811.8,473.6 L813.8,477.7 L816.1,480.2 L813.4,484.9 L812.8,488.0 L815.7,492.1 L813.4,495.1 L810.8,498.2 M816.1,480.2 L821.3,483.9 M823.0,483.9 L824.0,473.1 L825.5,465.9 L825.3,457.2 L825.0,442.9 M816.1,442.9 L837.1,442.9 L836.5,448.0 L833.5,453.1 L831.9,461.3 L830.9,466.1 M825.5,466.1 L838.4,466.5 L841.7,464.7 M824.0,473.1 L837.9,473.4 L837.9,474.6 L839.1,478.7 M835.1,473.4 L835.1,480.8 M842.4,462.7 L840.5,459.3 L839.9,439.8 L844.3,432.6 L847.0,425.5 L852.2,417.8 L858.2,418.8 L861.5,421.7 L861.5,435.7 L863.7,439.8 L866.7,443.9 M701.0,755.4 L701.0,747.2 L704.0,739.3 L712.5,739.3 L712.8,735.9 L706.3,727.2 L708.9,727.2 L708.9,721.4 L721.0,721.4 L720.7,741.0 L722.7,741.0 M721.0,721.4 L723.0,720.6 L726.6,714.4 M727.3,743.1 L720.7,751.3 L719.7,756.4 L714.8,763.1 M719.7,756.4 L725.3,761.0 L729.9,766.7 L730.6,769.7 M733.2,770.8 L737.2,767.7 L741.8,761.5 L748.3,754.4 L751.6,753.3 L760.2,750.8 M743.7,790.2 L749.7,791.3 L756.9,792.3 M761.8,819.9 L762.8,811.7 L764.5,806.1 M798.3,814.8 L799.6,823.0 L795.0,830.2 M838.4,781.0 L831.9,790.2 L827.3,806.6" stroke="#000" stroke-width="2"/>
<path d="M350.0,184.2 L341.7,182.5 L333.3,182.5 L325.0,180.8 L316.7,180.8 L308.3,180.0 L303.3,177.5 L296.7,176.7 L290.0,175.0 L285.0,177.5 L281.7,175.8 L280.0,173.3 L273.3,173.3 L266.7,176.7 L260.0,178.3 L255.0,180.0 L256.7,182.5 L251.7,182.5 L243.3,185.0 L236.7,188.3 L231.7,193.3 L228.3,196.7 L221.7,197.5 L215.0,199.2 L210.0,202.5 L216.7,205.0 L223.3,207.5 L228.3,210.8 L233.3,215.0 L240.0,216.7 L245.0,220.0 L251.7,221.7 L256.7,223.3 L250.0,224.2 L245.0,223.3 L240.0,225.8 L233.3,225.8 L231.7,223.3 L228.3,220.8 L221.7,222.5 L215.0,225.8 L208.3,228.3 L201.7,230.8 L206.7,232.5 L213.3,235.0 L218.3,235.8 L213.3,236.7 L212.5,240.0 L216.7,241.7 L223.3,242.5 L231.7,242.5 L236.7,243.3 L241.7,241.7 L246.7,239.2 L250.8,240.8 L248.3,245.0 L250.0,250.0 L246.7,252.5 L240.0,253.3 L236.7,255.8 L230.0,256.7 L225.0,259.2 L221.7,263.3 L218.3,266.7 L215.8,270.0 L215.0,274.2 L218.3,276.7 L223.3,278.3 L228.3,278.3 L231.7,280.8 L228.3,283.3 L223.3,282.5 L221.7,285.0 L225.0,288.3 L231.7,288.3 L238.3,287.5 L241.7,291.7 L243.3,296.7 L245.0,300.0 M207.5,287.5 L212.5,285.0 L217.5,286.7 L215.8,290.8 L210.0,291.7Z M156.7,218.3 L161.7,216.7 L165.0,215.8 L171.7,217.5 L178.3,218.3 L183.3,221.7 L188.3,225.0 L191.7,227.5 L186.7,228.3 L181.7,230.0 L175.0,231.7 L171.7,229.2 L169.2,230.8 L173.3,233.3 L174.2,236.7 L170.0,238.3 L168.3,241.7 L165.0,243.3 L160.0,241.7 L156.7,240.0 M156.7,221.7 L160.0,223.3 L162.5,220.8 L159.2,219.2 M240.8,288.3 L241.7,292.5 L243.3,296.7 L246.7,300.8 L251.7,300.8 L256.7,300.0 L260.8,302.5 L265.0,300.8 L270.0,300.0 L275.0,301.7 L273.3,305.8 L271.7,310.8 L269.2,315.0 L266.7,320.0 L263.3,323.3 L258.3,326.7 L253.3,330.8 L248.3,334.2 L243.3,336.7 L236.7,339.2 L231.7,341.7 L226.7,344.2 L223.3,345.8 L226.7,346.7 L233.3,343.3 L240.0,340.0 L246.7,336.7 L253.3,334.2 L260.0,330.8 L266.7,326.7 L273.3,322.5 L278.3,318.3 L280.0,314.2 L285.0,311.7 L290.0,309.2 L295.0,305.8 L298.3,302.5 L296.7,299.2 L293.3,297.5 L296.7,293.3 L301.7,290.0 L305.0,285.8 L310.0,281.7 L315.0,277.5 L320.0,275.8 L325.0,278.3 L323.3,280.0 L318.3,280.8 L315.0,284.2 L311.7,288.3 L310.0,293.3 L308.3,296.7 L312.5,296.7 L316.7,294.2 L321.7,291.7 L326.7,288.3 L330.0,289.2 L331.7,285.0 L330.0,281.7 L333.3,278.3 L338.3,278.3 L336.7,282.5 L338.3,286.7 L335.8,290.8 M293.3,315.0 L296.7,311.7 L300.8,309.2 L305.0,305.8 L307.5,307.5 L305.0,310.8 L303.3,315.0 L300.0,318.3 L295.8,320.0 L292.5,318.3Z M198.3,356.7 L200.0,354.7 L202.0,356.7 L200.0,358.7Z M209.2,351.7 L213.3,350.0 L214.2,353.3 L210.8,356.7Z M228.3,280.8 L230.8,279.2 L232.8,281.3 L230.5,283.3Z M330.0,278.3 L335.0,277.5 L340.0,280.8 L346.7,282.5 L355.0,284.2 L358.3,287.5 L366.7,289.2 L373.3,289.2 L380.0,290.0 L388.3,291.7 L396.7,296.7 L405.0,301.7 L410.0,305.0 L413.3,310.0 L416.7,315.0 L420.0,320.0 L425.0,325.0 L430.0,328.3 L433.3,333.3 L436.7,338.3 L438.3,343.3 L445.0,348.3 L450.0,351.7 L453.3,356.7 L458.3,353.3 L461.7,358.3 L463.3,363.3 L468.3,366.7 L471.7,365.0 L470.0,370.0 L466.7,373.3 L465.0,376.7 L470.0,380.0 L475.0,381.7 L480.0,385.0 L485.0,386.7 L486.7,390.0 L490.0,393.3 L495.0,396.7 L498.3,400.0 M381.7,190.8 L381.7,283.3 L383.3,285.8 L393.3,290.0 L403.3,296.7 L413.3,292.5 L418.3,293.3 L423.3,300.0 L430.0,308.3 L436.7,316.7 L443.3,323.3 L448.3,330.0 L450.0,338.3 L453.3,343.3 M408.3,300.0 L413.3,301.7 L416.7,306.7 L414.2,310.8 L410.0,308.3Z M418.3,308.3 L423.3,310.0 L425.8,315.0 L422.5,316.7 L419.2,313.3Z M423.3,318.3 L428.3,319.2 L431.7,323.3 L428.3,325.8 L424.2,323.3Z M430.0,326.7 L435.0,328.3 L438.3,333.3 L436.7,336.7 L432.5,333.3Z M438.3,331.7 L443.3,333.3 L445.0,338.3 L441.7,340.0Z M431.7,350.0 L436.7,348.3 L440.0,351.7 L438.3,356.7 L440.0,361.7 L443.3,366.7 L440.0,365.0 L436.7,360.0 L433.3,355.0Z M463.3,383.3 L468.3,381.7 L475.0,383.3 L480.0,386.7 L485.0,391.7 L490.0,395.0 L496.7,398.3 M330.0,283.3 L333.3,285.8 L336.7,289.2 L333.3,290.8 L330.0,289.2 M380.0,190.8 L386.7,191.7 L393.3,194.2 L400.0,196.7 L406.7,198.3 L413.3,198.3 L416.7,201.7 L414.2,196.7 L415.8,193.3 L421.7,191.7 L428.3,192.5 L433.3,190.8 L440.0,187.5 L446.7,185.0 L453.3,184.2 L454.2,186.7 L448.3,189.2 L441.7,192.5 L435.0,195.8 L429.2,198.3 L433.3,201.7 L436.7,202.5 L440.0,198.3 L446.7,195.0 L453.3,191.7 L460.0,188.3 L466.7,185.8 L468.3,183.3 L464.2,180.0 L468.3,181.7 L471.7,185.0 L474.2,189.2 L478.3,192.5 L483.3,193.3 L485.0,189.2 L488.3,188.3 L489.2,193.3 L493.3,192.5 L498.3,189.2 L503.3,187.5 L510.0,189.2 L516.7,192.5 L523.3,194.2 L530.0,195.8 L536.7,198.3 L543.3,200.0 L551.7,200.8 L556.7,202.5 L557.5,205.0 L551.7,205.8 L548.3,208.3 L553.3,210.0 L561.7,210.8 L570.0,210.0 M486.7,141.7 L496.7,140.8 L506.7,140.0 L513.3,141.7 L520.0,144.2 L528.3,144.2 L536.7,145.8 L543.3,147.5 L547.5,150.0 L541.7,152.5 L535.0,155.0 L530.0,158.3 L525.0,161.7 L520.0,165.0 L516.7,169.2 L510.0,170.8 L503.3,174.2 L496.7,174.2 L493.3,170.8 L486.7,167.5 L480.8,165.8 L483.3,161.7 L486.7,156.7 L490.8,151.7 L492.5,146.7Z M540.0,152.7 L544.0,152.0 L548.0,153.3 L553.3,152.0 L557.3,154.0 L556.0,158.7 L560.0,158.0 L564.0,156.0 L569.3,156.7 L573.3,160.0 L574.7,162.0 L578.7,160.0 L582.7,156.7 L588.0,156.0 L592.0,158.7 L594.7,163.3 L597.3,167.3 L600.0,168.0 L598.7,163.3 L596.7,158.7 L596.0,153.3 L600.0,152.0 L605.3,153.3 L609.3,154.7 L612.7,156.0 L614.0,154.0 L609.3,152.0 L606.0,150.0 L609.3,148.0 L614.7,148.7 L620.0,150.0 L619.3,153.3 L616.7,156.0 L614.7,158.7 L617.3,162.7 L620.0,167.3 L621.3,172.0 L620.0,175.3 L624.0,178.0 L629.3,180.7 L634.7,182.7 L640.0,184.0 L644.0,186.0 L644.7,190.0 L641.3,188.7 L637.3,188.0 L633.3,189.3 L629.3,190.0 L628.7,193.3 L633.3,195.3 L638.0,194.7 L638.7,192.7 L635.3,192.0 L639.3,193.3 L638.0,196.7 L633.3,198.0 L626.7,198.0 L620.0,196.7 L614.7,195.3 L610.7,193.3 L607.3,192.0 L604.0,194.7 L600.0,196.7 L596.0,198.7 L590.7,199.3 L585.3,199.3 L580.0,200.0 L574.7,199.3 L569.3,198.7 L565.3,200.7 L560.0,196.7 L554.7,195.3 L549.3,194.0 L544.0,192.7 L540.0,191.3 M594.0,202.7 L598.7,200.0 L604.0,198.7 L609.3,197.3 L612.7,198.7 L610.7,201.3 L606.7,202.7 L601.3,204.0 L596.0,204.7Z M540.0,198.0 L545.3,199.3 L550.7,200.0 L556.0,202.0 L554.7,204.7 L550.7,206.0 L548.0,207.3 L550.7,210.0 L556.0,210.7 L561.3,210.0 L566.7,209.3 L572.0,208.0 L577.3,206.7 L582.7,207.3 L588.0,208.7 L593.3,211.3 L597.3,213.3 L596.0,216.7 L598.7,220.7 L601.3,222.0 L604.0,218.0 L602.7,215.3 L600.0,212.7 L602.7,210.0 L606.7,207.3 L610.7,206.7 L614.7,204.7 L620.0,205.3 L625.3,206.0 L629.3,208.7 L633.3,210.7 L638.7,210.7 L644.0,210.0 L649.3,210.0 L654.7,209.3 L658.7,208.7 L660.0,206.7 L664.0,206.0 L668.0,207.3 L670.0,210.0 L668.0,211.3 L664.0,210.0 M668.0,207.3 L672.0,206.0 L674.7,208.7 L673.3,212.7 L676.0,215.3 L680.0,216.7 L682.0,215.3 L680.7,211.3 L681.3,208.7 L685.3,206.0 L689.3,203.3 L693.3,200.7 L696.0,198.7 L697.3,195.3 L694.7,192.7 L697.3,188.7 L700.0,186.0 M557.3,138.0 L561.3,140.0 L569.3,140.7 L577.3,139.3 L584.0,136.7 M540.0,146.0 L544.0,148.7 L546.7,150.0 L542.7,151.3 L540.0,152.0 M540.0,172.0 L545.3,171.3 L548.0,172.7 L545.3,174.7 L540.0,174.7 M540.0,179.3 L548.0,178.7 L556.0,179.1 L564.0,180.0 L570.7,182.0 L574.7,183.3 L569.3,184.7 L561.3,184.0 L553.3,183.3 L545.3,184.0 L540.0,183.3 M633.3,154.7 L638.7,154.0 L644.0,154.7 L649.3,154.0 L650.7,151.3 L645.3,152.0 L641.3,151.3 L640.0,149.3 L644.0,147.3 L650.7,146.0 L657.3,146.7 L664.0,146.0 L670.7,146.7 L668.0,149.3 L664.0,152.0 L661.3,154.7 L665.3,156.0 L670.7,158.0 L674.7,161.3 L673.3,165.3 L670.7,168.0 L666.7,170.0 L662.7,168.7 L660.0,168.0 L662.7,170.0 L660.0,173.3 L656.0,171.3 L652.0,168.0 L648.0,165.3 L644.0,162.7 L638.7,161.3 L634.7,158.7Z M681.3,147.3 L686.7,146.7 L692.0,148.7 L690.7,152.0 L685.3,152.7 L681.3,154.7 L682.7,158.7 L686.7,162.7 L690.7,161.3 L692.0,158.0 L688.0,156.7 L690.7,156.0 L696.0,156.7 L700.0,156.0 M700.0,176.0 L697.3,174.0 L694.7,170.0 L690.7,168.0 L684.0,168.0 L678.7,170.0 L676.0,174.0 L673.3,176.7 L676.0,178.0 L674.7,182.0 L676.0,186.0 L680.0,187.3 L685.3,188.7 L690.7,189.3 L696.0,190.0 L700.0,190.7 M656.0,195.3 L664.0,189.3 L668.0,190.0 L673.3,194.0 L678.7,198.0 L673.3,200.0 L666.7,199.3 L660.0,197.3Z M660.7,203.3 L665.3,202.7 L669.3,204.7 L668.0,208.7 L664.0,210.0 L661.3,207.3Z M680.0,138.0 L685.3,139.3 L690.7,138.0 L696.0,136.7 M706.7,136.7 L713.3,140.0 L720.0,138.7 L725.3,136.7 M728.0,136.7 L729.3,140.0 L736.0,141.3 L744.0,140.0 L752.0,139.3 L758.7,136.7 M761.3,136.7 L765.3,140.7 L772.0,141.3 L778.7,140.7 L780.7,137.3 M684.0,146.7 L690.7,144.7 L698.7,146.7 L706.7,145.3 L713.3,146.7 L710.7,150.0 L706.7,153.3 L702.7,156.0 L697.3,156.7 L692.0,157.3 L688.0,158.7 L689.3,161.3 L685.3,163.3 L682.0,161.3 L680.0,156.7 M717.3,161.3 L721.3,156.7 L726.7,152.7 L733.3,149.3 L740.0,147.3 L746.7,147.3 L744.0,150.7 L740.0,153.3 L737.3,156.7 L738.7,161.3 L741.3,164.7 L744.0,168.0 L746.7,170.7 L752.0,170.0 L752.7,174.0 L748.0,175.3 L742.7,174.0 L737.3,171.3 L732.0,170.0 L726.7,170.0 L721.3,168.7 L717.3,170.0 L716.0,167.3 L718.7,164.0Z M746.7,155.3 L750.7,151.3 L757.3,148.7 L765.3,148.0 L772.0,150.0 L776.0,153.3 L779.3,156.0 L777.3,160.0 L775.3,165.3 L778.7,166.7 L781.3,166.0 L785.3,164.7 L789.3,167.3 L793.3,161.3 L800.0,158.7 L808.0,159.3 L813.3,162.0 L818.7,165.3 L816.0,168.0 L814.7,171.3 L818.7,170.0 L822.7,171.3 L826.7,173.3 L832.0,170.7 L837.3,170.0 L840.0,171.3 M746.7,155.3 L749.3,158.0 L752.7,156.0 L754.7,154.0 L752.7,157.3 L748.0,160.0 L749.3,162.7 L753.3,163.3 L750.7,165.3 L746.7,166.0 L745.3,168.7 L749.3,170.0 L752.7,174.0 M776.7,148.7 L784.0,148.0 L790.7,148.7 L797.3,150.0 L802.7,152.7 L806.7,156.0 L800.0,156.7 L793.3,156.0 L786.7,156.7 L781.3,154.7 L778.7,151.3Z M680.0,168.7 L685.3,168.0 L690.7,168.7 L696.0,172.7 L698.7,178.0 L702.7,182.0 L705.3,184.7 L701.3,187.3 L698.7,189.3 L704.0,190.0 L709.3,191.3 L713.3,195.3 L714.7,200.7 L717.3,202.7 L720.0,198.0 L722.7,195.3 L726.7,196.7 L729.3,200.7 L728.0,204.7 L726.0,207.3 L728.0,210.0 L732.0,214.0 L736.0,215.3 L740.0,212.7 L742.7,208.7 L745.3,204.7 L748.0,200.7 L752.0,199.3 L753.3,196.0 L749.3,195.3 L746.7,192.7 L749.3,189.3 L754.7,188.7 L760.0,190.0 L766.7,192.7 L772.0,195.3 L773.3,198.0 L769.3,199.3 L765.3,200.7 L766.7,204.7 L770.7,208.7 L774.7,212.7 L772.0,216.7 L768.0,219.3 L764.0,222.0 L760.0,223.3 L757.3,222.0 L754.7,219.3 L752.0,216.7 L749.3,218.0 L752.0,222.0 L756.0,226.0 L757.3,230.0 L754.7,228.7 L752.0,224.7 L748.0,222.0 L744.0,220.7 L740.0,221.3 L737.3,223.3 L742.7,224.7 L741.3,228.7 L737.3,232.7 L733.3,235.3 L730.7,238.0 L733.3,240.7 L729.3,243.3 L725.3,246.0 L720.0,247.3 L716.0,248.7 M722.7,178.0 L728.0,176.7 L733.3,176.0 L734.7,178.0 L730.7,180.0 L725.3,181.3 L721.3,180.0Z M777.3,178.0 L782.7,179.3 L786.7,181.3 L790.7,184.7 L794.7,187.3 L798.7,190.0 L802.7,192.7 L806.7,195.3 L812.0,196.7 L816.0,199.3 L820.0,202.0 L824.0,206.0 L828.0,210.0 L832.0,214.0 L829.3,218.0 L825.3,220.7 L821.3,223.3 L818.7,226.0 L821.3,230.0 L825.3,232.7 L821.3,234.0 L816.0,235.3 L812.0,236.7 L808.0,235.3 L802.7,234.0 L798.7,235.3 L795.3,239.3 L796.0,243.3 L800.0,244.7 L805.3,244.7 L810.7,242.0 L813.3,239.3 L817.3,240.7 L821.3,243.3 L826.7,244.7 L829.3,247.3 L830.7,250.0 M777.3,178.0 L781.3,182.0 L786.7,183.3 L790.7,187.3 L793.3,191.3 L800.0,195.3 L805.3,199.3 L812.0,202.0 L818.7,204.7 M800.7,210.0 L802.7,206.0 L807.3,204.7 L812.0,206.0 L814.0,210.0 L812.0,214.0 L807.3,215.3 L802.7,214.0Z M786.7,195.3 L790.7,192.7 L793.3,194.0 L790.7,196.7 L786.7,197.3Z M710.7,228.7 L716.0,228.0 L721.3,228.7 L725.3,231.3 L729.3,234.0 L726.7,235.3 L721.3,234.0 L716.0,231.3 L712.0,230.0Z M742.7,231.3 L745.3,228.7 L748.0,231.3 L746.7,235.3 L744.0,239.3 L741.3,243.3 L742.7,247.3 L740.0,250.0 M749.3,232.7 L753.3,235.3 L757.3,236.7 L761.3,239.3 L765.3,240.7 L768.0,244.7 L770.7,247.3 L776.0,248.7 M820.0,170.0 L824.0,172.7 L826.7,174.7 L829.3,171.3 L832.7,170.0 L837.3,172.7 L834.7,176.0 L840.0,177.3 L844.0,179.3 L848.0,180.7 L852.0,179.3 L856.0,180.7 L853.3,183.3 L850.7,186.0 L852.0,188.7 L856.0,186.0 L860.0,183.3 L864.0,184.7 L867.3,188.7 L861.3,190.0 L858.7,191.3 L862.7,192.7 L869.3,194.7 L864.0,196.0 L858.7,195.3 L856.0,198.0 L858.7,201.3 L864.0,202.7 L868.0,204.7 L870.7,207.3 L876.0,207.3 L881.3,208.0 L885.3,210.0 L886.7,213.3 L882.7,215.3 L886.7,216.7 L892.0,215.3 L894.7,218.0 L900.0,218.0 L904.7,220.7 L904.0,223.3 L900.0,224.7 L897.3,223.3 L898.7,227.3 L896.0,230.0 L892.7,228.7 L892.0,232.7 L890.7,236.7 L886.7,235.3 L884.0,232.7 L881.3,231.3 L878.7,228.7 L876.0,226.0 L872.0,223.3 L868.0,221.3 L864.0,222.0 L862.7,226.0 L865.3,229.3 L862.7,228.7 L859.3,225.3 L858.7,226.0 L861.3,230.0 L865.3,234.0 L868.0,238.0 L872.0,240.7 L876.0,243.3 L878.7,247.3 L881.3,250.0 M820.0,202.0 L825.3,202.7 L829.3,204.7 L832.0,208.7 L833.3,212.7 L830.7,215.3 L828.0,218.0 L825.3,220.7 L822.7,223.3 L820.0,224.7 M833.3,219.3 L837.3,218.0 L841.3,216.0 L845.3,218.0 L849.3,220.0 L853.3,222.0 L852.0,224.7 L848.0,226.0 L844.0,225.3 L841.3,227.3 L838.7,225.3 L836.0,222.0Z M820.0,240.7 L824.0,242.0 L828.0,244.7 L830.7,248.0 L834.7,250.0 M933.3,136.0 L936.0,138.0 L937.3,142.0 L940.0,146.0 L942.7,150.0 L946.7,154.0 L950.7,157.3 L948.0,160.0 L944.0,158.7 L943.3,162.0 L944.7,166.0 L942.0,169.3 L944.0,172.0 L948.0,173.3 L952.0,172.7 L954.7,170.0 L957.3,168.0 L962.7,168.0 L968.0,169.3 L970.7,174.0 L973.3,179.3 L975.3,183.3 L970.7,182.0 L965.3,180.0 L960.0,179.3 L954.7,178.7 L951.3,180.0 L954.7,181.3 L960.0,182.7 L965.3,184.7 L970.7,186.7 L976.0,188.0 L978.0,188.7 M948.0,186.0 L953.3,183.3 L958.7,184.7 L964.0,187.3 L968.0,190.0 L965.3,192.0 L960.0,192.7 L954.7,194.0 L950.7,191.3Z M958.7,172.7 L964.0,173.3 L965.3,176.0 L960.0,176.7Z M978.0,194.0 L974.7,196.7 L973.3,200.7 L966.7,200.7 L961.3,202.0 L960.0,206.0 L961.3,210.0 L965.3,210.7 L970.7,210.0 L974.7,211.3 L978.0,210.0 M966.7,200.7 L966.7,210.0 M960.0,210.0 L956.0,212.0 L958.7,215.3 L957.3,219.3 L961.3,218.0 L965.3,218.7 L962.7,222.0 L958.7,223.3 L957.3,226.0 L961.3,227.3 L960.0,230.0 L964.0,232.7 L966.7,235.3 L968.0,240.7 L966.7,244.7 L969.3,246.0 L974.7,242.0 L978.0,240.7 M970.7,250.0 L974.7,247.3 L978.0,246.0 M711.7,228.3 L718.3,227.5 L725.0,229.2 L730.0,232.5 L726.7,235.0 L721.7,233.3 L716.7,230.8Z M748.3,220.0 L743.3,221.7 L738.3,222.5 L740.0,226.7 L738.3,231.7 L735.0,236.7 L733.3,240.8 L728.3,245.0 L721.7,247.5 L716.7,246.7 L715.0,250.8 L710.0,252.5 L703.3,253.3 L706.7,251.7 L701.7,250.0 L695.0,248.3 L698.3,250.8 L705.0,255.8 L711.7,257.5 L706.7,260.0 L701.7,260.0 L702.5,263.3 L698.3,265.8 L693.3,269.2 L695.0,273.3 L690.0,276.7 L686.7,283.3 L685.0,290.0 L685.0,296.7 L688.3,301.7 L695.0,301.7 L698.3,306.7 L700.0,313.3 L701.7,320.0 L706.7,318.3 L713.3,317.5 L720.0,319.2 L726.7,323.3 L731.7,328.3 L736.7,332.5 L743.3,335.0 L750.0,336.7 L756.7,337.5 L763.3,338.3 L767.5,340.0 L768.3,346.7 L767.5,353.3 L768.3,360.0 L766.7,363.3 L770.0,365.8 L771.7,370.0 M790.8,370.0 L790.0,363.3 L790.8,358.3 L788.3,353.3 L786.7,348.3 L785.0,344.2 L790.0,341.7 L795.0,338.3 L800.0,335.0 L804.2,328.3 L805.8,321.7 L804.2,315.0 L800.0,310.0 L795.0,305.0 L791.7,301.7 L795.8,298.3 L798.3,293.3 L800.8,288.3 L798.3,283.3 L794.2,281.7 L797.5,277.5 L795.8,271.7 L795.0,266.7 L798.3,264.2 L805.0,265.0 L811.7,265.8 L818.3,266.7 L823.3,265.0 L828.3,268.3 L833.3,273.3 L840.0,276.7 M735.0,252.5 L740.0,246.7 L741.7,238.3 L744.2,232.5 L746.7,228.3 L748.3,232.5 L753.3,236.7 L760.0,238.3 L766.7,241.7 L771.7,246.7 L776.7,249.2 L780.0,251.7 L775.0,252.5 L770.0,250.8 L765.0,247.5 L760.0,245.0 L760.0,249.2 L755.0,250.8 L750.0,255.8 L746.7,251.7 L741.7,250.0 L738.3,253.3Z M756.7,265.0 L761.7,260.0 L768.3,258.3 L770.0,260.8 L765.0,265.0 L760.0,267.5Z M780.0,269.2 L783.3,265.0 L786.7,265.8 L785.8,270.8 L782.5,273.3Z M840.0,233.3 L835.0,231.7 L828.3,230.0 L821.7,230.8 L816.7,233.3 L811.7,235.8 L805.0,234.2 L798.3,236.7 L795.0,242.5 L800.0,245.0 L806.7,245.0 L811.7,242.5 L816.7,240.0 L821.7,240.8 L826.7,244.2 L831.7,247.5 L836.7,250.0 L840.0,250.8 M820.0,226.7 L823.3,223.3 L828.3,221.7 L833.3,220.0 M736.7,222.5 L743.3,220.8 L750.0,222.5 L755.0,226.7 L756.7,230.0 L753.3,228.3 M756.7,220.0 L763.3,221.7 L766.7,220.0 M820.0,264.7 L825.3,265.3 L829.3,268.0 L833.3,271.3 L836.0,275.3 L841.3,278.0 L846.7,280.0 L851.3,280.7 L850.0,286.0 L850.0,292.7 L851.3,298.0 L848.0,300.0 L848.7,303.3 L853.3,302.0 L858.0,302.7 L860.7,307.3 L865.3,306.7 L870.7,304.0 L874.7,304.7 L876.0,299.3 L878.7,295.3 L877.3,292.7 L881.3,290.0 L883.3,288.0 L886.7,291.3 L889.3,295.3 L892.7,299.3 L894.7,303.3 L896.7,307.3 L898.7,311.3 L901.3,315.3 L904.0,318.0 L902.7,321.3 L898.7,322.0 L900.0,325.3 L904.0,328.7 L908.0,331.3 L912.0,335.3 L910.7,339.3 L916.0,338.7 L921.3,340.7 L926.7,343.3 L929.3,346.0 L925.3,347.3 L921.3,348.7 M820.0,241.3 L825.3,242.0 L828.0,245.3 L832.0,248.7 L837.3,250.7 L840.0,254.0 L837.3,256.0 L841.3,258.7 L846.7,260.0 L850.7,262.0 L856.0,265.3 L862.7,266.0 L869.3,268.7 L874.7,270.7 M855.3,250.7 L858.7,250.0 L864.0,253.3 L868.0,258.7 L872.0,264.0 L874.7,270.0 L870.7,268.7 L866.7,264.7 L862.7,260.7 L858.7,256.7 L855.3,253.3Z M861.3,250.7 L866.7,254.0 L872.0,258.0 L876.0,258.7 L880.0,262.7 L882.7,263.3 L881.3,258.7 L884.0,255.3 L884.7,251.3 L880.0,250.0 L878.7,246.0 L876.0,242.7 L872.0,239.3 L868.0,236.0 L865.3,232.7 L861.3,230.0 M880.0,230.0 L882.7,232.7 L886.7,235.3 L890.7,236.7 L892.0,233.3 L894.7,230.0 M960.0,230.0 L964.0,232.7 L966.7,236.7 L968.0,242.0 L972.0,243.3 L977.3,241.3 M978.0,244.7 L973.3,247.3 L970.7,251.3 L974.7,254.0 L978.0,256.7 M801.7,330.0 L798.3,335.0 L790.0,340.0 L785.0,343.3 L786.7,350.0 L790.0,356.7 L791.7,363.3 L790.0,370.0 L791.7,375.0 L786.7,381.7 L783.3,378.3 L780.0,378.3 M905.0,330.0 L910.0,335.0 L911.7,338.3 L918.3,340.0 L925.0,343.3 L930.0,345.8 L925.0,346.7 L920.0,349.2 L915.0,351.7 L912.5,355.0 L913.3,357.5 L918.3,355.8 L923.3,351.7 L928.3,348.3 L933.3,350.0 L931.7,355.0 L936.7,354.2 L940.0,358.3 L941.7,363.3 L940.8,369.2 L935.0,372.5 L930.0,375.0 L925.0,377.5 L921.7,380.0 L916.7,383.3 L910.0,385.8 L903.3,387.5 L896.7,388.3 L890.0,388.3 L883.3,387.5 L876.7,387.5 L871.7,388.3 L868.3,391.7 L865.0,395.0 L860.0,398.3 L855.0,401.7 L851.7,406.7 L848.3,411.7 L845.0,416.7 L842.5,421.7 L841.7,425.0 L846.7,418.3 L851.7,413.3 L856.7,408.3 L861.7,405.0 L866.7,402.5 L873.3,400.0 L880.0,399.2 L884.2,401.7 L885.8,405.8 L881.7,408.3 L876.7,409.2 L872.5,410.8 L875.0,413.3 L878.3,415.0 L880.0,420.0 L881.7,425.0 L883.3,428.3 L886.7,431.7 L890.0,434.2 L886.7,436.7 L880.0,438.3 L875.0,440.0 L870.8,441.7 L866.7,445.0 L863.3,446.7 L858.3,448.3 L853.3,450.8 L848.3,455.0 L845.0,460.0 L843.3,465.0 L841.7,470.0 L838.3,475.0 L835.0,476.7 M885.8,392.5 L891.7,393.3 L898.3,395.8 L902.5,399.2 L896.7,399.2 L890.0,396.7Z M942.5,375.0 L938.3,378.3 L935.0,383.3 L931.7,390.0 L927.5,396.7 L925.0,403.3 L921.7,408.3 L918.3,412.5 L921.7,415.0 L928.3,415.8 L935.0,416.7 L940.0,415.0 L945.0,412.5 L946.7,415.0 L943.3,418.3 L938.3,420.8 L945.0,420.0 L950.0,416.7 L953.3,413.3 L955.8,416.7 L955.0,421.7 L959.2,418.3 L960.8,413.3 L958.3,408.3 L955.0,405.0 L956.7,401.7 L953.3,398.3 L948.3,395.8 L945.0,395.0 L941.7,391.7 L938.3,394.2 L935.8,391.7 L938.3,386.7 L940.8,381.7 L943.3,378.3Z M870.0,455.8 L875.0,450.8 L880.0,446.7 L885.0,441.7 L888.3,438.3 L895.0,436.7 L900.0,434.2 L905.0,431.7 L910.0,430.0 L913.3,428.3 L910.0,423.3 L907.5,420.8 L906.7,426.7 L903.3,430.0 L898.3,431.7 L893.3,432.5 L888.3,434.2 L883.3,436.7 L880.0,440.0 L876.7,445.0 L873.3,450.0Z M886.7,425.0 L891.7,425.8 L896.7,427.5 L895.0,430.0 L890.0,429.2Z M282.7,695.3 L286.7,697.3 L288.7,700.7 L289.7,704.0 L286.7,706.0 L285.3,709.3 L283.3,709.7 L281.3,707.3 L281.7,704.0 L280.7,701.3 L282.0,699.3Z M822.7,687.3 L826.7,684.7 L830.0,686.7 L828.0,689.3 L824.0,690.0Z M793.3,715.3 L798.7,714.0 L804.0,716.0 L806.7,718.7 L802.7,720.0 L797.3,720.0Z M866.0,714.0 L872.0,712.7 L876.0,714.0 L875.3,718.7 L870.7,719.7 L866.7,719.3Z M902.0,792.0 L907.3,792.0 L907.3,799.3 L902.0,799.3Z M789.3,631.3 L792.0,628.7 L797.3,627.3 L801.3,630.0 L802.0,634.0 L800.0,638.0 M793.3,648.7 L795.3,646.0 L797.3,650.7 L796.7,654.0 L798.0,658.0 L796.0,659.3 L794.7,655.3 L792.7,651.3Z M802.7,641.3 L806.7,643.3 M806.7,644.7 L808.7,650.0 M809.3,650.0 L813.3,655.3 M812.0,660.7 L816.0,668.7 M819.3,668.7 L822.7,675.3 M701.7,425.0 L708.9,423.4 L712.8,426.5 L718.1,424.4 L725.3,420.3 L729.3,417.8 L726.6,422.9 L731.9,427.5 L738.5,427.5 L745.1,425.5 L748.3,425.0 L751.0,427.5 L750.3,422.4 L748.3,416.2 L742.4,412.1 L738.5,405.0 L728.6,402.9 L724.7,407.0 L720.1,412.1 L715.5,414.2 L708.9,419.3Z M731.2,476.7 L735.2,476.7 L738.5,471.6 L740.4,463.4 L738.5,453.1 L740.4,446.0 L744.4,442.9 L745.7,439.8 L748.3,435.7 L749.7,434.7 L745.1,432.6 L738.5,434.7 L735.2,435.7 L731.2,441.9 L728.6,447.0 L731.2,446.0 L733.9,440.3 L731.9,450.1 L730.6,458.3 L729.3,463.4 L729.9,470.5Z M749.7,434.7 L754.9,432.6 L758.2,431.1 L764.8,431.6 L771.4,432.6 L776.6,433.7 L781.2,439.8 L782.5,444.9 L779.2,448.0 L774.6,444.9 L770.7,440.3 L772.7,447.0 L770.0,454.2 L770.0,460.3 L765.4,463.4 L764.8,457.2 L761.5,452.6 L755.6,456.2 L758.9,450.1 L759.5,442.9 L758.2,439.8 L752.9,436.7Z M765.4,463.4 L764.8,467.5 L762.1,469.5 L760.8,473.1 M758.2,476.7 L763.5,478.7 L770.0,478.7 L777.9,473.6 L787.8,466.5 L788.5,464.4 L784.5,464.9 L778.6,467.5 L771.4,467.5 L764.8,473.6 L760.8,473.6Z M788.5,464.4 L787.5,460.8 M782.5,460.3 L787.8,460.8 L794.4,459.8 L800.9,460.3 L806.2,457.7 L806.2,452.1 L804.2,451.1 L797.7,453.6 L791.1,454.2 L785.8,456.7Z M805.6,451.1 L814.1,442.9 L820.7,439.8 L824.0,436.7 L830.5,429.6 L839.1,423.9 L844.3,419.3 M866.7,443.9 L861.4,448.0 L856.8,450.1 L852.9,453.1 L848.3,455.2 L845.0,457.2 L843.0,462.4 L841.7,467.0 L840.4,470.5 L843.0,474.1 L847.0,475.7 L845.7,473.1 L847.3,476.7 L843.0,478.2 L839.1,478.7 L837.8,476.7 L837.1,479.8 L830.5,481.3 L823.3,483.9 L820.7,486.9 L820.0,489.0 L820.7,494.1 L818.0,500.3 L814.8,504.9 L812.1,501.3 L810.5,498.2 L811.5,502.3 L813.4,506.4 L813.8,510.0 L812.1,514.6 L808.2,522.8 L808.2,518.7 L807.5,512.6 L806.2,506.4 L806.9,500.3 L804.2,502.3 L804.2,509.5 L805.6,514.6 L805.6,524.9 L807.5,525.9 L808.8,533.1 L810.8,542.8 L805.6,546.4 L802.9,548.4 L797.7,552.5 L794.7,556.6 L790.4,557.1 L786.5,563.8 L781.9,568.9 L776.6,574.0 L774.0,577.1 L772.7,584.3 L771.7,589.4 L772.7,596.6 L775.3,606.8 L777.6,613.0 L779.2,622.2 L780.9,629.4 L780.6,639.6 L778.6,645.8 L774.0,646.8 L770.0,638.6 L768.1,632.4 L763.5,621.2 L762.8,615.0 L763.5,606.8 L758.9,600.7 L754.9,595.6 L752.3,597.6 L748.3,600.7 L745.7,599.7 L744.4,595.6 L738.5,592.5 L733.9,593.0 L728.6,594.0 L728.6,589.4 L728.0,593.5 L722.0,592.5 L718.1,594.5 L717.4,597.6 L719.4,602.7 L721.4,605.8 L718.7,604.8 L714.8,605.3 L710.2,606.3 L706.9,603.7 L703.6,601.2 L700.3,601.2 L694.4,599.1 L690.1,599.7 L684.6,602.7 L683.9,599.7 L681.3,606.8 L674.7,611.9 L669.4,618.1 L666.8,624.2 L666.8,632.4 L668.4,638.1 L665.5,647.8 L664.2,658.1 L664.2,673.4 L667.5,685.7 L668.1,692.9 L673.4,704.2 L676.0,708.3 L678.6,712.4 L683.9,714.4 L687.8,717.5 L692.4,715.4 L697.7,713.4 L703.6,713.4 L707.6,709.3 L710.9,704.2 L712.2,693.9 L713.5,688.8 L718.7,685.7 L725.3,683.7 L731.9,683.7 L736.5,684.7 L736.5,690.8 L732.6,697.0 L731.9,704.2 L730.6,712.4 L728.6,715.4 L727.3,719.5 L727.3,729.8 L724.7,740.0 L722.7,741.0 L727.3,743.1 L731.9,741.6 L738.5,742.1 L743.1,740.5 L748.3,740.5 L752.9,742.1 L758.9,748.2 L760.2,750.8 L758.9,760.5 L757.5,770.8 L756.9,781.0 L756.9,791.3 L758.9,797.4 L762.8,804.6 L766.8,811.7 L771.4,813.8 L776.0,812.8 L781.9,808.2 L784.5,805.6 L791.1,807.6 L798.3,814.8 L800.9,822.0 L802.3,815.8 L807.5,808.7 L810.2,801.5 L810.8,795.4 L814.8,790.7 L819.4,788.2 L825.3,788.2 L832.5,782.0 L838.4,776.9 L837.8,783.1 L834.5,786.1 L836.5,792.3 L837.1,801.5 M840.4,801.5 L840.4,793.3 L845.7,787.2 L848.3,779.0 L849.6,786.1 L856.8,789.2 L858.8,795.4 L872.0,795.4 L879.9,800.5 L885.1,796.4 L896.3,794.3 L900.2,794.3 M820.7,488.0 L827.3,486.9 L833.8,483.4 L830.5,483.9 L824.0,484.9Z M795.0,830.2 L793.1,817.9 L787.8,811.7 L784.5,812.8 L781.2,818.9 L778.6,829.2 L774.6,825.1 L770.0,821.0 L762.1,819.9 L756.9,815.8 L757.5,808.7 L750.3,805.6 L747.7,801.5 L743.1,797.4 L743.7,790.2 L738.5,781.0 L732.6,771.8 L730.6,769.7 L725.3,768.7 L716.8,764.6 L711.5,761.5 L706.3,760.5 L701.0,755.4 L695.7,746.2 L689.2,739.0 L682.6,738.0 L676.0,743.1 L669.4,741.0 L659.6,736.9 L651.7,732.9 L643.1,726.7 L635.2,719.5 L626.7,716.5 L620.8,708.3 L614.8,701.1 L612.2,694.9 L614.8,688.8 L612.9,678.5 L607.6,666.3 L600.4,655.0 L593.8,645.8 L587.9,640.6 L587.9,631.4 L580.7,622.2 L577.4,617.1 L569.5,606.8 L565.5,594.5 L563.6,585.3 L557.6,581.2 L552.4,578.1 L553.0,586.3 L555.7,596.6 L560.9,606.8 L565.5,617.1 L568.8,624.2 L574.1,635.5 L576.0,642.7 L580.0,655.0 L584.6,661.1 L587.9,666.3 L584.6,669.3 L582.0,663.2 L574.1,652.9 L570.1,647.8 L569.5,637.6 L564.2,630.4 L557.6,627.3 L551.7,620.1 L556.3,614.0 L553.7,604.8 L546.5,596.6 L543.2,586.3 L539.9,578.1 L537.1,570.7 L535.9,564.8 L528.7,557.6 L528.0,555.6 L522.8,553.5 L514.9,550.5 L513.6,543.3 L505.7,529.0 L502.4,522.8 L501.7,516.7 L498.5,511.5 L493.8,504.4 L493.2,496.2 L489.2,490.0 L491.2,483.9 L490.6,473.6 L488.6,465.4 L491.2,456.2 L491.9,444.9 L492.5,430.6 L491.2,425.5 L487.3,408.0 L495.2,410.6 L499.8,411.1 L502.4,418.3 L502.4,409.1 L499.8,401.9 L497.1,398.8 L491.9,393.7 L486.6,388.6 L478.7,383.5 L470.2,378.3 L466.9,369.1 L462.3,360.9 L455.7,352.7 L450.4,346.6 M495.8,408.0 L488.6,406.5 L480.0,399.9 L473.5,392.7 L465.6,386.5 L463.6,383.5 L472.1,385.5 L482.0,389.6 L486.6,395.8 L493.2,400.9Z M502.1,516.7 L504.4,519.7 L503.1,514.6 M748.7,680.1 L752.9,678.0 L754.9,671.4 L760.2,668.3 L765.4,666.8 L771.4,667.3 L777.3,667.3 L782.5,670.3 L785.8,674.4 L792.4,675.5 L797.7,680.6 L800.3,682.6 L807.5,687.8 L810.2,691.9 L815.4,692.9 L819.7,696.5 L818.7,698.5 L812.8,700.1 L806.2,699.2 L796.3,700.6 L799.6,693.9 L793.7,691.9 L791.1,688.8 L785.8,683.2 L779.2,680.6 L773.3,677.5 L769.4,676.5 L762.8,671.4 L758.9,676.5 L754.9,679.6Z M762.1,679.6 L764.1,681.1 L763.5,684.2 L760.8,682.6Z M817.7,715.9 L820.7,712.9 L824.6,714.4 L829.2,714.4 L831.5,713.4 L828.6,708.3 L824.6,702.1 L827.3,700.1 L833.8,701.1 L841.7,700.6 L847.0,702.1 L847.6,706.2 L852.2,706.2 L849.6,708.8 L855.5,710.3 L857.8,713.4 L855.5,717.5 L849.6,715.4 L845.7,717.0 L840.4,717.5 L837.8,723.6 L835.8,719.5 L830.5,717.5 L824.0,717.5Z M835.5,702.1 L835.8,710.3 L833.8,713.4 L835.5,719.0 M792.1,716.5 L795.7,714.4 L800.9,715.4 L805.6,718.0 L806.2,720.6 L800.9,721.6 L796.3,721.1Z M865.1,715.4 L873.3,714.9 L875.9,716.5 L873.9,719.5 L865.4,720.0Z M281.1,701.6 L282.4,696.5 L286.7,699.6 L289.3,704.2 L284.7,708.3 L283.4,709.8 L282.1,705.7Z" stroke="#000" stroke-width="2.4"/>
<path d="M176.7,250.8 L183.3,250.8 L190.0,252.5 L195.8,255.0 L193.3,256.7 L190.0,257.5 L186.7,255.0 L181.7,254.2 L177.5,253.3Z M159.7,367.5 L162.0,367.5 L162.0,370.0 L159.7,370.0Z M686.7,196.7 L693.3,194.0 L696.0,196.0 L692.0,198.0Z M733.3,184.7 L736.7,182.7 L738.7,186.0 L735.3,188.0Z M734.7,204.7 L738.0,203.3 L738.7,208.0 L736.0,209.3Z M818.7,207.3 L824.0,206.7 L824.7,209.3 L819.3,210.0Z M799.3,191.3 L802.7,191.3 L802.7,194.0 L799.3,194.0Z M782.5,330.0 L786.7,325.8 L790.8,324.2 L790.0,327.5 L785.8,330.8 L782.5,332.5Z M772.5,360.0 L776.7,360.8 L778.7,364.2 L774.7,363.7Z M792.5,254.2 L795.8,252.5 L797.5,255.0 L794.2,255.8Z M799.2,252.5 L802.5,251.7 L804.2,254.2 L800.8,254.2Z M878.0,272.0 L882.0,271.3 L884.7,274.7 L880.7,275.3Z M858.7,283.3 L861.3,282.7 L862.0,285.3 L859.3,286.0Z M841.3,261.3 L844.7,260.7 L845.3,263.3 L842.0,264.0Z M912.5,451.7 L915.8,451.7 L915.8,454.2 L912.5,454.2Z M884.2,423.3 L888.3,422.5 L889.2,425.8 L885.0,426.7Z M256.3,676.0 L258.7,675.0 L261.0,676.3 L260.3,679.3 L258.0,680.0 L256.3,678.7Z M266.0,681.3 L268.0,680.0 L270.0,681.3 L271.0,684.7 L269.3,686.3 L267.0,685.3Z M271.7,685.7 L274.7,685.0 L278.0,686.7 L280.7,689.3 L283.0,690.3 L281.3,692.7 L277.3,692.7 L276.0,690.0 L272.7,688.7Z M880.4,719.3 L883.6,719.3 L883.6,722.0 L880.4,722.0Z M899.5,727.3 L902.7,727.3 L902.7,729.2 L899.5,729.2Z M901.1,733.3 L905.6,733.3 L905.6,740.0 L901.1,740.0Z M902.3,741.7 L905.7,741.7 L905.7,747.6 L902.3,747.6Z M905.5,749.1 L907.9,749.1 L907.9,753.6 L905.5,753.6Z M905.7,758.4 L908.9,758.4 L908.9,762.9 L905.7,762.9Z M903.9,765.9 L906.8,765.9 L906.8,768.8 L903.9,768.8Z M915.1,765.9 L917.5,765.9 L917.5,769.6 L915.1,769.6Z M900.7,777.5 L903.3,777.5 L903.3,780.4 L900.7,780.4Z M907.6,786.3 L910.5,786.3 L910.5,788.4 L907.6,788.4Z M845.2,777.3 L848.1,777.3 L848.1,782.7 L845.2,782.7Z M884.3,787.6 L889.1,787.6 L889.1,791.6 L884.3,791.6Z M761.1,679.1 L764.3,679.1 L764.3,684.0 L761.1,684.0Z M867.5,553.5 L871.5,553.5 L871.5,557.0 L867.5,557.0Z" fill="#000" stroke="#000" stroke-width="1"/>
<path d="M373.5,187.2 L470.0,176.3 L879.4,278.4 L912.0,329.7 L939.0,350.5 L964.5,411.5 L958.8,432.3 L932.0,422.2 L872.6,463.2 L859.7,433.0 L859.4,422.5 L853.3,422.5 L840.0,442.5 L813.3,442.5 L787.3,463.3 L760.5,431.7 L702.0,401.4 L491.4,401.4 L484.8,411.8 L432.0,360.0 L425.8,340.5 L445.5,340.5 L445.5,330.0 L419.2,299.5 L404.2,299.5 L373.5,289.5Z" stroke="#00FFFF" stroke-width="1"/>
<path d="M484.5,391.2 L728.5,391.2 L767.5,442.5 L767.5,462.5 L761.0,473.5 L767.5,473.5 L786.8,453.5 L799.0,453.5 L807.5,442.5 L835.0,442.5 L853.5,412.5 L860.0,412.5 L866.2,421.5 L866.5,432.0 L872.5,442.5 L872.5,453.5 L847.5,462.5 L853.0,483.0 L827.5,494.0 L813.5,523.0 L813.5,545.0 L773.8,586.2 L787.5,646.2 L767.5,646.2 L755.0,606.2 L695.0,606.2 L675.0,616.2 L667.5,646.2 L655.0,635.0 L642.5,606.2 L622.5,606.2 L610.0,586.2 L575.0,586.2 L517.5,565.5 L484.5,494.5Z" stroke="#FFFF00" stroke-width="1"/>
<path d="M274.9,166.2 L379.6,187.2 L379.7,279.7 L399.2,289.2 L420.0,289.2 L451.7,330.0 L451.7,350.5 L438.3,350.5 L425.0,340.8 L385.8,298.8 L346.7,289.5 L340.8,299.5 L320.9,299.4 L294.6,330.2 L281.4,319.9 L261.7,340.4 L196.0,371.2 L196.0,350.7 L261.7,319.9 L268.3,309.7 L248.6,309.7 L222.3,289.2 L215.7,299.4 L202.5,289.2 L215.7,278.9 L209.1,268.7 L235.4,248.2 L209.1,248.2 L196.0,227.7 L222.3,217.5 L209.1,207.2 L209.1,197.0Z" stroke="#FFFF00" stroke-width="1"/>
</g>
</g>
<rect x="1011" y="792.99" width="41" height="10.91" fill="#00008F"/>
<rect x="1011" y="782.59" width="41" height="10.91" fill="#00009F"/>
<rect x="1011" y="772.18" width="41" height="10.91" fill="#0000AF"/>
<rect x="1011" y="761.77" width="41" height="10.91" fill="#0000BF"/>
<rect x="1011" y="751.37" width="41" height="10.91" fill="#0000CF"/>
<rect x="1011" y="740.96" width="41" height="10.91" fill="#0000DF"/>
<rect x="1011" y="730.56" width="41" height="10.91" fill="#0000EF"/>
<rect x="1011" y="720.15" width="41" height="10.91" fill="#0000FF"/>
<rect x="1011" y="709.74" width="41" height="10.91" fill="#0010FF"/>
<rect x="1011" y="699.34" width="41" height="10.91" fill="#0020FF"/>
<rect x="1011" y="688.93" width="41" height="10.91" fill="#0030FF"/>
<rect x="1011" y="678.52" width="41" height="10.91" fill="#0040FF"/>
<rect x="1011" y="668.12" width="41" height="10.91" fill="#0050FF"/>
<rect x="1011" y="657.71" width="41" height="10.91" fill="#0060FF"/>
<rect x="1011" y="647.31" width="41" height="10.91" fill="#0070FF"/>
<rect x="1011" y="636.90" width="41" height="10.91" fill="#0080FF"/>
<rect x="1011" y="626.49" width="41" height="10.91" fill="#008FFF"/>
<rect x="1011" y="616.09" width="41" height="10.91" fill="#009FFF"/>
<rect x="1011" y="605.68" width="41" height="10.91" fill="#00AFFF"/>
<rect x="1011" y="595.27" width="41" height="10.91" fill="#00BFFF"/>
<rect x="1011" y="584.87" width="41" height="10.91" fill="#00CFFF"/>
<rect x="1011" y="574.46" width="41" height="10.91" fill="#00DFFF"/>
<rect x="1011" y="564.06" width="41" height="10.91" fill="#00EFFF"/>
<rect x="1011" y="553.65" width="41" height="10.91" fill="#00FFFF"/>
<rect x="1011" y="543.24" width="41" height="10.91" fill="#10FFEF"/>
<rect x="1011" y="532.84" width="41" height="10.91" fill="#20FFDF"/>
<rect x="1011" y="522.43" width="41" height="10.91" fill="#30FFCF"/>
<rect x="1011" y="512.02" width="41" height="10.91" fill="#40FFBF"/>
<rect x="1011" y="501.62" width="41" height="10.91" fill="#50FFAF"/>
<rect x="1011" y="491.21" width="41" height="10.91" fill="#60FF9F"/>
<rect x="1011" y="480.81" width="41" height="10.91" fill="#70FF8F"/>
<rect x="1011" y="470.40" width="41" height="10.91" fill="#80FF80"/>
<rect x="1011" y="459.99" width="41" height="10.91" fill="#8FFF70"/>
<rect x="1011" y="449.59" width="41" height="10.91" fill="#9FFF60"/>
<rect x="1011" y="439.18" width="41" height="10.91" fill="#AFFF50"/>
<rect x="1011" y="428.77" width="41" height="10.91" fill="#BFFF40"/>
<rect x="1011" y="418.37" width="41" height="10.91" fill="#CFFF30"/>
<rect x="1011" y="407.96" width="41" height="10.91" fill="#DFFF20"/>
<rect x="1011" y="397.56" width="41" height="10.91" fill="#EFFF10"/>
<rect x="1011" y="387.15" width="41" height="10.91" fill="#FFFF00"/>
<rect x="1011" y="376.74" width="41" height="10.91" fill="#FFEF00"/>
<rect x="1011" y="366.34" width="41" height="10.91" fill="#FFDF00"/>
<rect x="1011" y="355.93" width="41" height="10.91" fill="#FFCF00"/>
<rect x="1011" y="345.52" width="41" height="10.91" fill="#FFBF00"/>
<rect x="1011" y="335.12" width="41" height="10.91" fill="#FFAF00"/>
<rect x="1011" y="324.71" width="41" height="10.91" fill="#FF9F00"/>
<rect x="1011" y="314.31" width="41" height="10.91" fill="#FF8F00"/>
<rect x="1011" y="303.90" width="41" height="10.91" fill="#FF8000"/>
<rect x="1011" y="293.49" width="41" height="10.91" fill="#FF7000"/>
<rect x="1011" y="283.09" width="41" height="10.91" fill="#FF6000"/>
<rect x="1011" y="272.68" width="41" height="10.91" fill="#FF5000"/>
<rect x="1011" y="262.27" width="41" height="10.91" fill="#FF4000"/>
<rect x="1011" y="251.87" width="41" height="10.91" fill="#FF3000"/>
<rect x="1011" y="241.46" width="41" height="10.91" fill="#FF2000"/>
<rect x="1011" y="231.06" width="41" height="10.91" fill="#FF1000"/>
<rect x="1011" y="220.65" width="41" height="10.91" fill="#FF0000"/>
<rect x="1011" y="210.24" width="41" height="10.91" fill="#EF0000"/>
<rect x="1011" y="199.84" width="41" height="10.91" fill="#DF0000"/>
<rect x="1011" y="189.43" width="41" height="10.91" fill="#CF0000"/>
<rect x="1011" y="179.03" width="41" height="10.91" fill="#BF0000"/>
<rect x="1011" y="168.62" width="41" height="10.91" fill="#AF0000"/>
<rect x="1011" y="158.21" width="41" height="10.91" fill="#9F0000"/>
<rect x="1011" y="147.81" width="41" height="10.91" fill="#8F0000"/>
<rect x="1011" y="137.40" width="41" height="10.91" fill="#800000"/>
<rect x="1010.5" y="137.5" width="42" height="666" fill="none" stroke="#000" stroke-width="1"/>
<path d="M1011,359.5 h8 M1052,359.5 h-8" stroke="#000" stroke-width="1" fill="none"/>
<path d="M1011,581.5 h8 M1052,581.5 h-8" stroke="#000" stroke-width="1" fill="none"/>
<rect x="156.5" y="135.5" width="822" height="666" fill="none" stroke="#000" stroke-width="1"/>
</svg>
<svg width="1200" height="900" viewBox="0 0 1200 900" style="position:absolute;left:0;top:0">
<text transform="translate(565.5,27.0) scale(1,0.870)" font-size="25.00" font-family="Liberation Mono, monospace" text-anchor="middle" font-weight="normal" xml:space="preserve" stroke="#fff" stroke-width="0.30" paint-order="fill stroke">WAAS LPV Coverage Contours</text>
<text transform="translate(565.5,57.0) scale(1,0.870)" font-size="25.00" font-family="Liberation Mono, monospace" text-anchor="middle" font-weight="normal" xml:space="preserve" stroke="#fff" stroke-width="0.30" paint-order="fill stroke">12/18/24</text>
<text transform="translate(565.5,88.0) scale(1,0.870)" font-size="25.00" font-family="Liberation Mono, monospace" text-anchor="middle" font-weight="normal" xml:space="preserve" stroke="#fff" stroke-width="0.30" paint-order="fill stroke">Week 2345 Day 3</text>
<text transform="translate(221.6,829.0)" font-size="20.83" font-family="Liberation Mono, monospace" text-anchor="start" font-weight="normal" xml:space="preserve" stroke="#fff" stroke-width="0.45" paint-order="fill stroke">-160</text>
<text transform="translate(353.2,829.0)" font-size="20.83" font-family="Liberation Mono, monospace" text-anchor="start" font-weight="normal" xml:space="preserve" stroke="#fff" stroke-width="0.45" paint-order="fill stroke">-140</text>
<text transform="translate(484.7,829.0)" font-size="20.83" font-family="Liberation Mono, monospace" text-anchor="start" font-weight="normal" xml:space="preserve" stroke="#fff" stroke-width="0.45" paint-order="fill stroke">-120</text>
<text transform="translate(616.2,829.0)" font-size="20.83" font-family="Liberation Mono, monospace" text-anchor="start" font-weight="normal" xml:space="preserve" stroke="#fff" stroke-width="0.45" paint-order="fill stroke">-100</text>
<text transform="translate(754.0,829.0)" font-size="20.83" font-family="Liberation Mono, monospace" text-anchor="start" font-weight="normal" xml:space="preserve" stroke="#fff" stroke-width="0.45" paint-order="fill stroke">-80</text>
<text transform="translate(885.5,829.0)" font-size="20.83" font-family="Liberation Mono, monospace" text-anchor="start" font-weight="normal" xml:space="preserve" stroke="#fff" stroke-width="0.45" paint-order="fill stroke">-60</text>
<text transform="translate(149.0,808.5)" font-size="20.83" font-family="Liberation Mono, monospace" text-anchor="end" font-weight="normal" xml:space="preserve" stroke="#fff" stroke-width="0.45" paint-order="fill stroke">10</text>
<text transform="translate(149.0,706.0)" font-size="20.83" font-family="Liberation Mono, monospace" text-anchor="end" font-weight="normal" xml:space="preserve" stroke="#fff" stroke-width="0.45" paint-order="fill stroke">20</text>
<text transform="translate(149.0,603.6)" font-size="20.83" font-family="Liberation Mono, monospace" text-anchor="end" font-weight="normal" xml:space="preserve" stroke="#fff" stroke-width="0.45" paint-order="fill stroke">30</text>
<text transform="translate(149.0,501.1)" font-size="20.83" font-family="Liberation Mono, monospace" text-anchor="end" font-weight="normal" xml:space="preserve" stroke="#fff" stroke-width="0.45" paint-order="fill stroke">40</text>
<text transform="translate(149.0,398.7)" font-size="20.83" font-family="Liberation Mono, monospace" text-anchor="end" font-weight="normal" xml:space="preserve" stroke="#fff" stroke-width="0.45" paint-order="fill stroke">50</text>
<text transform="translate(149.0,296.2)" font-size="20.83" font-family="Liberation Mono, monospace" text-anchor="end" font-weight="normal" xml:space="preserve" stroke="#fff" stroke-width="0.45" paint-order="fill stroke">60</text>
<text transform="translate(149.0,193.7)" font-size="20.83" font-family="Liberation Mono, monospace" text-anchor="end" font-weight="normal" xml:space="preserve" stroke="#fff" stroke-width="0.45" paint-order="fill stroke">70</text>
<text transform="translate(570.0,851.0) scale(1,0.870)" font-size="18.40" font-family="Liberation Mono, monospace" text-anchor="middle" font-weight="bold" xml:space="preserve">Longitude</text>
<text transform="translate(112.5,466.0) rotate(-90) scale(1,0.870)" font-size="18.40" font-family="Liberation Mono, monospace" text-anchor="middle" font-weight="bold" xml:space="preserve">Latitude</text>
<text transform="translate(1058.5,147.5)" font-size="20.50" font-family="Liberation Sans, sans-serif" text-anchor="start" font-weight="normal" xml:space="preserve">1</text>
<text transform="translate(1058.5,369.0)" font-size="20.50" font-family="Liberation Sans, sans-serif" text-anchor="start" font-weight="normal" xml:space="preserve">0.95</text>
<text transform="translate(1058.5,591.0)" font-size="20.50" font-family="Liberation Sans, sans-serif" text-anchor="start" font-weight="normal" xml:space="preserve">0.9</text>
<text transform="translate(1058.5,813.0)" font-size="20.50" font-family="Liberation Sans, sans-serif" text-anchor="start" font-weight="normal" xml:space="preserve">0.85</text>
<text transform="translate(162.5,543.0) scale(1,0.930)" font-size="15.00" font-family="Liberation Mono, monospace" text-anchor="start" font-weight="normal" xml:space="preserve">Percent| CONUS   | Alaska  | Canada</text>
<text transform="translate(162.5,563.5) scale(1,0.930)" font-size="15.00" font-family="Liberation Mono, monospace" text-anchor="start" font-weight="normal" xml:space="preserve"> Avail.|Coverage |Coverage | Coverage</text>
<text transform="translate(162.5,583.0) scale(1,0.930)" font-size="15.00" font-family="Liberation Mono, monospace" text-anchor="start" font-weight="normal" xml:space="preserve">  95   | 100.00%  | 100.00% | 86.37%</text>
<text transform="translate(162.5,603.5) scale(1,0.930)" font-size="15.00" font-family="Liberation Mono, monospace" text-anchor="start" font-weight="normal" xml:space="preserve">  98   | 100.00%  | 100.00% | 76.90%</text>
<text transform="translate(162.5,624.0) scale(1,0.930)" font-size="15.00" font-family="Liberation Mono, monospace" text-anchor="start" font-weight="normal" xml:space="preserve">  99   | 100.00%  | 99.66% | 73.73%</text>
<text transform="translate(162.5,644.5) scale(1,0.930)" font-size="15.00" font-family="Liberation Mono, monospace" text-anchor="start" font-weight="normal" xml:space="preserve">99.9   | 100.00%  | 99.66% | 69.31%</text>
<text transform="translate(162.5,665.0) scale(1,0.930)" font-size="15.00" font-family="Liberation Mono, monospace" text-anchor="start" font-weight="normal" xml:space="preserve"> 100   | 100.00%  | 99.66% | 68.82%</text>
<path d="M163,568.5 H503" stroke="#000" stroke-width="1" stroke-dasharray="6.5,2.5" fill="none" shape-rendering="crispEdges"/>
<text transform="translate(187.0,748.5) scale(1,1.200)" font-size="10.00" font-family="Liberation Mono, monospace" text-anchor="start" font-weight="normal" xml:space="preserve">W.J.H. FAA Technical Center</text>
<text transform="translate(187.0,761.0) scale(1,1.200)" font-size="10.00" font-family="Liberation Mono, monospace" text-anchor="start" font-weight="normal" xml:space="preserve">WAAS Test Team</text>
</svg>
</body></html>
